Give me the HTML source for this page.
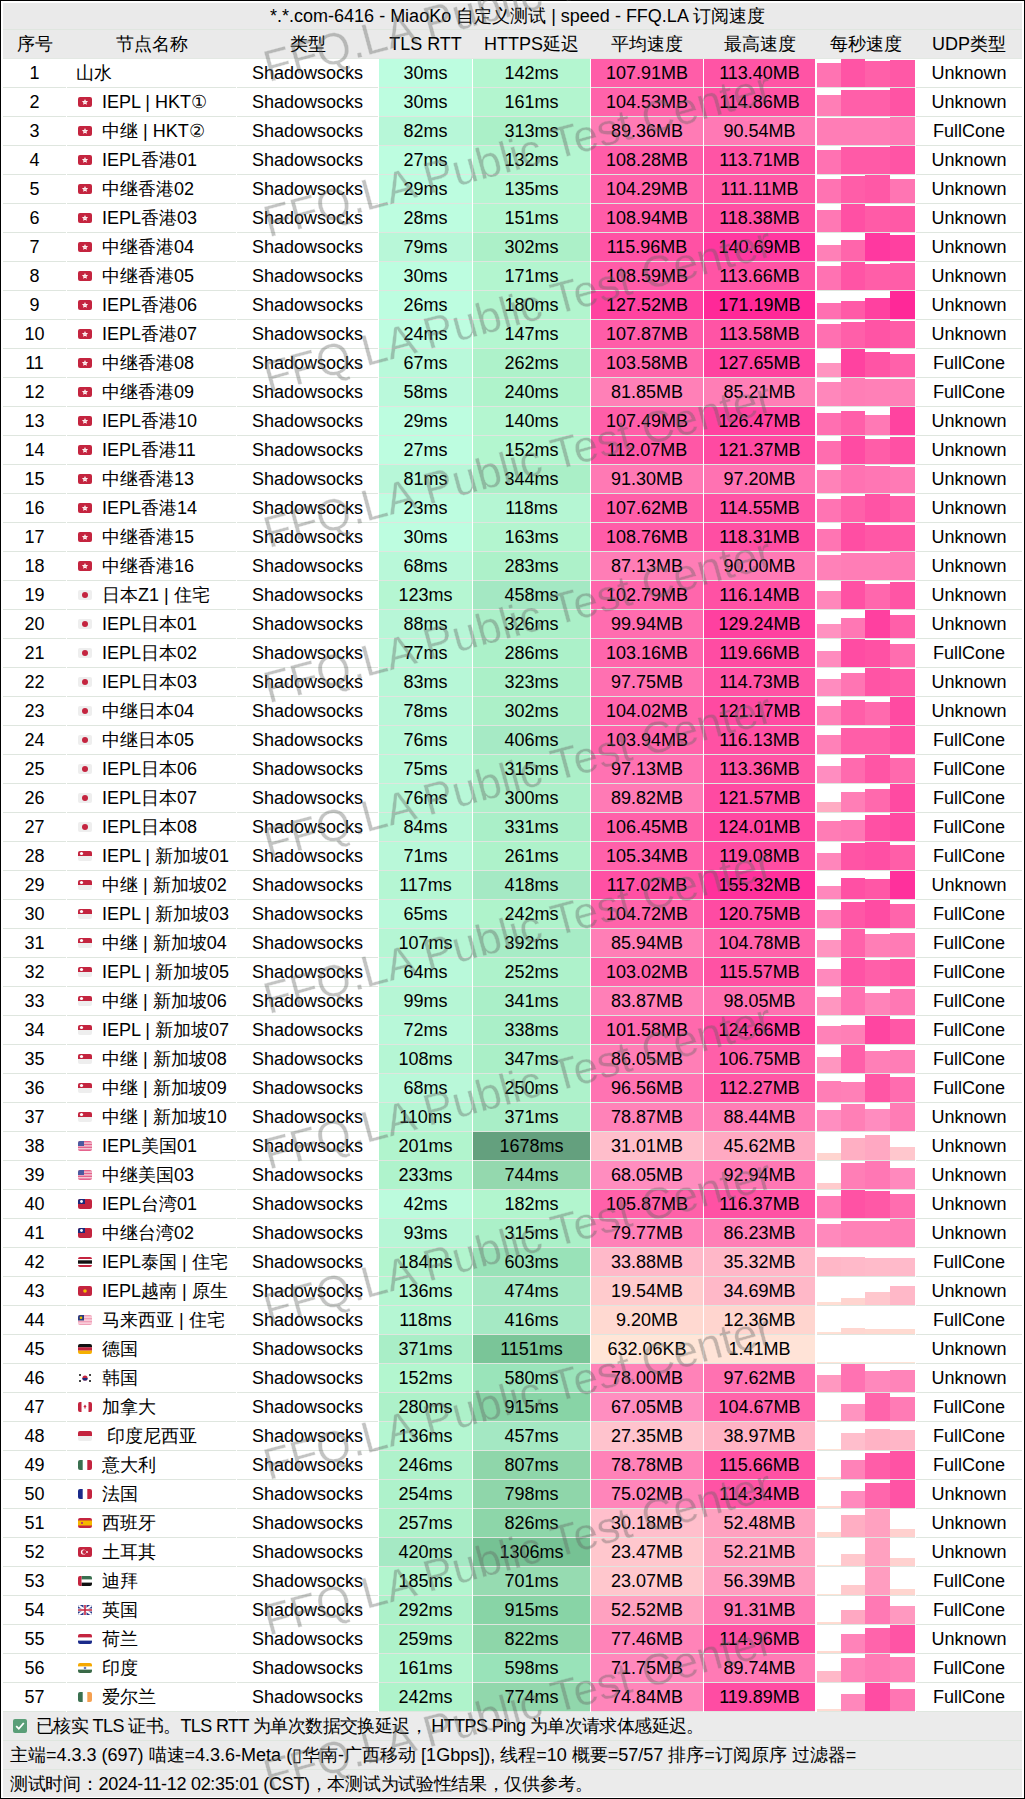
<!DOCTYPE html><html><head><meta charset="utf-8"><style>
html,body{margin:0;padding:0;background:#fff;}
body{width:1025px;height:1799px;position:relative;overflow:hidden;font-family:"Liberation Sans",sans-serif;color:#000;}
.c{position:absolute;height:28px;line-height:28px;font-size:18px;text-align:center;white-space:nowrap;border-bottom:1px solid #dfe6df;}
.t{position:absolute;white-space:nowrap;font-size:18px;line-height:28px;}
.b{position:absolute;}
.f{position:absolute;width:14px;height:10px;border-radius:2px;overflow:hidden;}
.f svg{display:block;}
.wm{position:absolute;font-size:44.4px;line-height:50px;height:50px;color:rgba(96,100,96,0.26);white-space:nowrap;transform-origin:0 40px;}
</style></head><body>
<div style="position:absolute;left:0;top:0;width:1023px;height:1797px;border:1px solid #000;"></div>

<div class="c" style="left:3px;top:3px;height:26px;line-height:26px;width:1019px;background:#eaeaea;text-indent:10px;">*.*.com-6416 - MiaoKo 自定义测试 | speed - FFQ.LA 订阅速度</div>
<div style="position:absolute;left:3px;top:30px;width:1019px;height:28px;background:#eaeaea;border-bottom:1px solid #e3e8e3;"></div>
<div class="c" style="left:3px;top:30px;width:63px;border-bottom:none;">序号</div>
<div class="c" style="left:67px;top:30px;width:169px;border-bottom:none;">节点名称</div>
<div class="c" style="left:237px;top:30px;width:141px;border-bottom:none;">类型</div>
<div class="c" style="left:379px;top:30px;width:93px;border-bottom:none;">TLS RTT</div>
<div class="c" style="left:473px;top:30px;width:117px;border-bottom:none;">HTTPS延迟</div>
<div class="c" style="left:591px;top:30px;width:112px;border-bottom:none;">平均速度</div>
<div class="c" style="left:704px;top:30px;width:111px;border-bottom:none;">最高速度</div>
<div class="c" style="left:817px;top:30px;width:98px;border-bottom:none;">每秒速度</div>
<div class="c" style="left:916px;top:30px;width:106px;border-bottom:none;">UDP类型</div>
<div class="c" style="left:3px;top:59px;width:63px;background:#fff;">1</div>
<div class="c" style="left:67px;top:59px;width:169px;background:#fff;"></div>
<div class="t" style="left:76px;top:59px;">山水</div>
<div class="c" style="left:237px;top:59px;width:141px;background:#fff;">Shadowsocks</div>
<div class="c" style="left:379px;top:59px;width:93px;background:#bdfde0;">30ms</div>
<div class="c" style="left:473px;top:59px;width:117px;background:#b4f6d0;">142ms</div>
<div class="c" style="left:591px;top:59px;width:112px;background:#ff5da8;">107.91MB</div>
<div class="c" style="left:704px;top:59px;width:111px;background:#ff54a5;">113.40MB</div>
<div class="c" style="left:817px;top:59px;width:98px;background:#fff;"></div>
<div class="b" style="left:817.0px;top:63.2px;width:24.0px;height:23.8px;background:#ff73b2;"></div>
<div class="b" style="left:841.0px;top:59.0px;width:24.3px;height:28.0px;background:#ff54a5;"></div>
<div class="b" style="left:865.3px;top:60.8px;width:24.5px;height:26.2px;background:#ff60a9;"></div>
<div class="b" style="left:889.8px;top:59.6px;width:25.2px;height:27.4px;background:#ff58a6;"></div>
<div class="c" style="left:916px;top:59px;width:106px;background:#fff;">Unknown</div>
<div class="c" style="left:3px;top:88px;width:63px;background:#fff;">2</div>
<div class="c" style="left:67px;top:88px;width:169px;background:#fff;"></div>
<div class="f" style="left:78px;top:97px;"><svg width="14" height="10"><rect width="14" height="10" fill="#c4243f"/><polygon points="7.00,1.90 7.88,3.99 10.14,4.18 8.43,5.66 8.94,7.87 7.00,6.70 5.06,7.87 5.57,5.66 3.86,4.18 6.12,3.99" fill="#fff"/><circle cx="7" cy="5.2" r=".6" fill="#e88"/></svg></div>
<div class="t" style="left:102px;top:88px;">IEPL | HKT①</div>
<div class="c" style="left:237px;top:88px;width:141px;background:#fff;">Shadowsocks</div>
<div class="c" style="left:379px;top:88px;width:93px;background:#bdfde0;">30ms</div>
<div class="c" style="left:473px;top:88px;width:117px;background:#b3f5cf;">161ms</div>
<div class="c" style="left:591px;top:88px;width:112px;background:#ff63aa;">104.53MB</div>
<div class="c" style="left:704px;top:88px;width:111px;background:#ff53a4;">114.86MB</div>
<div class="c" style="left:817px;top:88px;width:98px;background:#fff;"></div>
<div class="b" style="left:817.0px;top:95.0px;width:24.0px;height:21.0px;background:#ff7eb6;"></div>
<div class="b" style="left:841.0px;top:90.0px;width:24.3px;height:26.0px;background:#ff5fa9;"></div>
<div class="b" style="left:865.3px;top:90.0px;width:24.5px;height:26.0px;background:#ff5fa9;"></div>
<div class="b" style="left:889.8px;top:88.0px;width:25.2px;height:28.0px;background:#ff53a4;"></div>
<div class="c" style="left:916px;top:88px;width:106px;background:#fff;">Unknown</div>
<div class="c" style="left:3px;top:117px;width:63px;background:#fff;">3</div>
<div class="c" style="left:67px;top:117px;width:169px;background:#fff;"></div>
<div class="f" style="left:78px;top:126px;"><svg width="14" height="10"><rect width="14" height="10" fill="#c4243f"/><polygon points="7.00,1.90 7.88,3.99 10.14,4.18 8.43,5.66 8.94,7.87 7.00,6.70 5.06,7.87 5.57,5.66 3.86,4.18 6.12,3.99" fill="#fff"/><circle cx="7" cy="5.2" r=".6" fill="#e88"/></svg></div>
<div class="t" style="left:102px;top:117px;">中继 | HKT②</div>
<div class="c" style="left:237px;top:117px;width:141px;background:#fff;">Shadowsocks</div>
<div class="c" style="left:379px;top:117px;width:93px;background:#b7f7d8;">82ms</div>
<div class="c" style="left:473px;top:117px;width:117px;background:#abf0c8;">313ms</div>
<div class="c" style="left:591px;top:117px;width:112px;background:#ff7bb5;">89.36MB</div>
<div class="c" style="left:704px;top:117px;width:111px;background:#ff79b5;">90.54MB</div>
<div class="c" style="left:817px;top:117px;width:98px;background:#fff;"></div>
<div class="b" style="left:817.0px;top:118.0px;width:24.0px;height:27.0px;background:#ff7db6;"></div>
<div class="b" style="left:841.0px;top:118.0px;width:24.3px;height:27.0px;background:#ff7db6;"></div>
<div class="b" style="left:865.3px;top:118.0px;width:24.5px;height:27.0px;background:#ff7db6;"></div>
<div class="b" style="left:889.8px;top:117.0px;width:25.2px;height:28.0px;background:#ff79b5;"></div>
<div class="c" style="left:916px;top:117px;width:106px;background:#fff;">FullCone</div>
<div class="c" style="left:3px;top:146px;width:63px;background:#fff;">4</div>
<div class="c" style="left:67px;top:146px;width:169px;background:#fff;"></div>
<div class="f" style="left:78px;top:155px;"><svg width="14" height="10"><rect width="14" height="10" fill="#c4243f"/><polygon points="7.00,1.90 7.88,3.99 10.14,4.18 8.43,5.66 8.94,7.87 7.00,6.70 5.06,7.87 5.57,5.66 3.86,4.18 6.12,3.99" fill="#fff"/><circle cx="7" cy="5.2" r=".6" fill="#e88"/></svg></div>
<div class="t" style="left:102px;top:146px;">IEPL香港01</div>
<div class="c" style="left:237px;top:146px;width:141px;background:#fff;">Shadowsocks</div>
<div class="c" style="left:379px;top:146px;width:93px;background:#bdfde0;">27ms</div>
<div class="c" style="left:473px;top:146px;width:117px;background:#b4f6d1;">132ms</div>
<div class="c" style="left:591px;top:146px;width:112px;background:#ff5da8;">108.28MB</div>
<div class="c" style="left:704px;top:146px;width:111px;background:#ff54a5;">113.71MB</div>
<div class="c" style="left:817px;top:146px;width:98px;background:#fff;"></div>
<div class="b" style="left:817.0px;top:150.2px;width:24.0px;height:23.8px;background:#ff72b2;"></div>
<div class="b" style="left:841.0px;top:147.0px;width:24.3px;height:27.0px;background:#ff5aa7;"></div>
<div class="b" style="left:865.3px;top:147.0px;width:24.5px;height:27.0px;background:#ff5aa7;"></div>
<div class="b" style="left:889.8px;top:146.0px;width:25.2px;height:28.0px;background:#ff54a5;"></div>
<div class="c" style="left:916px;top:146px;width:106px;background:#fff;">Unknown</div>
<div class="c" style="left:3px;top:175px;width:63px;background:#fff;">5</div>
<div class="c" style="left:67px;top:175px;width:169px;background:#fff;"></div>
<div class="f" style="left:78px;top:184px;"><svg width="14" height="10"><rect width="14" height="10" fill="#c4243f"/><polygon points="7.00,1.90 7.88,3.99 10.14,4.18 8.43,5.66 8.94,7.87 7.00,6.70 5.06,7.87 5.57,5.66 3.86,4.18 6.12,3.99" fill="#fff"/><circle cx="7" cy="5.2" r=".6" fill="#e88"/></svg></div>
<div class="t" style="left:102px;top:175px;">中继香港02</div>
<div class="c" style="left:237px;top:175px;width:141px;background:#fff;">Shadowsocks</div>
<div class="c" style="left:379px;top:175px;width:93px;background:#bdfde0;">29ms</div>
<div class="c" style="left:473px;top:175px;width:117px;background:#b4f6d1;">135ms</div>
<div class="c" style="left:591px;top:175px;width:112px;background:#ff63ab;">104.29MB</div>
<div class="c" style="left:704px;top:175px;width:111px;background:#ff58a6;">111.11MB</div>
<div class="c" style="left:817px;top:175px;width:98px;background:#fff;"></div>
<div class="b" style="left:817.0px;top:178.7px;width:24.0px;height:24.3px;background:#ff73b2;"></div>
<div class="b" style="left:841.0px;top:175.7px;width:24.3px;height:27.3px;background:#ff5da8;"></div>
<div class="b" style="left:865.3px;top:175.0px;width:24.5px;height:28.0px;background:#ff58a6;"></div>
<div class="b" style="left:889.8px;top:179.3px;width:25.2px;height:23.7px;background:#ff75b3;"></div>
<div class="c" style="left:916px;top:175px;width:106px;background:#fff;">Unknown</div>
<div class="c" style="left:3px;top:204px;width:63px;background:#fff;">6</div>
<div class="c" style="left:67px;top:204px;width:169px;background:#fff;"></div>
<div class="f" style="left:78px;top:213px;"><svg width="14" height="10"><rect width="14" height="10" fill="#c4243f"/><polygon points="7.00,1.90 7.88,3.99 10.14,4.18 8.43,5.66 8.94,7.87 7.00,6.70 5.06,7.87 5.57,5.66 3.86,4.18 6.12,3.99" fill="#fff"/><circle cx="7" cy="5.2" r=".6" fill="#e88"/></svg></div>
<div class="t" style="left:102px;top:204px;">IEPL香港03</div>
<div class="c" style="left:237px;top:204px;width:141px;background:#fff;">Shadowsocks</div>
<div class="c" style="left:379px;top:204px;width:93px;background:#bdfde0;">28ms</div>
<div class="c" style="left:473px;top:204px;width:117px;background:#b4f6d0;">151ms</div>
<div class="c" style="left:591px;top:204px;width:112px;background:#ff5ca8;">108.94MB</div>
<div class="c" style="left:704px;top:204px;width:111px;background:#ff4ea3;">118.38MB</div>
<div class="c" style="left:817px;top:204px;width:98px;background:#fff;"></div>
<div class="b" style="left:817.0px;top:210.3px;width:24.0px;height:21.7px;background:#ff78b4;"></div>
<div class="b" style="left:841.0px;top:204.3px;width:24.3px;height:27.7px;background:#ff50a4;"></div>
<div class="b" style="left:865.3px;top:206.2px;width:24.5px;height:25.8px;background:#ff5ba7;"></div>
<div class="b" style="left:889.8px;top:205.8px;width:25.2px;height:26.2px;background:#ff59a6;"></div>
<div class="c" style="left:916px;top:204px;width:106px;background:#fff;">Unknown</div>
<div class="c" style="left:3px;top:233px;width:63px;background:#fff;">7</div>
<div class="c" style="left:67px;top:233px;width:169px;background:#fff;"></div>
<div class="f" style="left:78px;top:242px;"><svg width="14" height="10"><rect width="14" height="10" fill="#c4243f"/><polygon points="7.00,1.90 7.88,3.99 10.14,4.18 8.43,5.66 8.94,7.87 7.00,6.70 5.06,7.87 5.57,5.66 3.86,4.18 6.12,3.99" fill="#fff"/><circle cx="7" cy="5.2" r=".6" fill="#e88"/></svg></div>
<div class="t" style="left:102px;top:233px;">中继香港04</div>
<div class="c" style="left:237px;top:233px;width:141px;background:#fff;">Shadowsocks</div>
<div class="c" style="left:379px;top:233px;width:93px;background:#b8f7d8;">79ms</div>
<div class="c" style="left:473px;top:233px;width:117px;background:#acf0c8;">302ms</div>
<div class="c" style="left:591px;top:233px;width:112px;background:#ff51a4;">115.96MB</div>
<div class="c" style="left:704px;top:233px;width:111px;background:#ff38a0;">140.69MB</div>
<div class="c" style="left:817px;top:233px;width:98px;background:#fff;"></div>
<div class="b" style="left:817.0px;top:244.7px;width:24.0px;height:16.3px;background:#ff80b7;"></div>
<div class="b" style="left:841.0px;top:240.4px;width:24.3px;height:20.6px;background:#ff65ab;"></div>
<div class="b" style="left:865.3px;top:233.0px;width:24.5px;height:28.0px;background:#ff38a0;"></div>
<div class="b" style="left:889.8px;top:235.2px;width:25.2px;height:25.8px;background:#ff40a0;"></div>
<div class="c" style="left:916px;top:233px;width:106px;background:#fff;">Unknown</div>
<div class="c" style="left:3px;top:262px;width:63px;background:#fff;">8</div>
<div class="c" style="left:67px;top:262px;width:169px;background:#fff;"></div>
<div class="f" style="left:78px;top:271px;"><svg width="14" height="10"><rect width="14" height="10" fill="#c4243f"/><polygon points="7.00,1.90 7.88,3.99 10.14,4.18 8.43,5.66 8.94,7.87 7.00,6.70 5.06,7.87 5.57,5.66 3.86,4.18 6.12,3.99" fill="#fff"/><circle cx="7" cy="5.2" r=".6" fill="#e88"/></svg></div>
<div class="t" style="left:102px;top:262px;">中继香港05</div>
<div class="c" style="left:237px;top:262px;width:141px;background:#fff;">Shadowsocks</div>
<div class="c" style="left:379px;top:262px;width:93px;background:#bdfde0;">30ms</div>
<div class="c" style="left:473px;top:262px;width:117px;background:#b3f5cf;">171ms</div>
<div class="c" style="left:591px;top:262px;width:112px;background:#ff5ca8;">108.59MB</div>
<div class="c" style="left:704px;top:262px;width:111px;background:#ff54a5;">113.66MB</div>
<div class="c" style="left:817px;top:262px;width:98px;background:#fff;"></div>
<div class="b" style="left:817.0px;top:266.1px;width:24.0px;height:23.9px;background:#ff72b2;"></div>
<div class="b" style="left:841.0px;top:262.0px;width:24.3px;height:28.0px;background:#ff54a5;"></div>
<div class="b" style="left:865.3px;top:263.5px;width:24.5px;height:26.5px;background:#ff5ea8;"></div>
<div class="b" style="left:889.8px;top:263.3px;width:25.2px;height:26.7px;background:#ff5da8;"></div>
<div class="c" style="left:916px;top:262px;width:106px;background:#fff;">Unknown</div>
<div class="c" style="left:3px;top:291px;width:63px;background:#fff;">9</div>
<div class="c" style="left:67px;top:291px;width:169px;background:#fff;"></div>
<div class="f" style="left:78px;top:300px;"><svg width="14" height="10"><rect width="14" height="10" fill="#c4243f"/><polygon points="7.00,1.90 7.88,3.99 10.14,4.18 8.43,5.66 8.94,7.87 7.00,6.70 5.06,7.87 5.57,5.66 3.86,4.18 6.12,3.99" fill="#fff"/><circle cx="7" cy="5.2" r=".6" fill="#e88"/></svg></div>
<div class="t" style="left:102px;top:291px;">IEPL香港06</div>
<div class="c" style="left:237px;top:291px;width:141px;background:#fff;">Shadowsocks</div>
<div class="c" style="left:379px;top:291px;width:93px;background:#bdfde0;">26ms</div>
<div class="c" style="left:473px;top:291px;width:117px;background:#b2f5ce;">180ms</div>
<div class="c" style="left:591px;top:291px;width:112px;background:#ff42a0;">127.52MB</div>
<div class="c" style="left:704px;top:291px;width:111px;background:#ff2898;">171.19MB</div>
<div class="c" style="left:817px;top:291px;width:98px;background:#fff;"></div>
<div class="b" style="left:817.0px;top:302.9px;width:24.0px;height:16.1px;background:#ff6fb1;"></div>
<div class="b" style="left:841.0px;top:301.0px;width:24.3px;height:18.0px;background:#ff5aa7;"></div>
<div class="b" style="left:865.3px;top:298.0px;width:24.5px;height:21.0px;background:#ff41a0;"></div>
<div class="b" style="left:889.8px;top:291.0px;width:25.2px;height:28.0px;background:#ff2898;"></div>
<div class="c" style="left:916px;top:291px;width:106px;background:#fff;">Unknown</div>
<div class="c" style="left:3px;top:320px;width:63px;background:#fff;">10</div>
<div class="c" style="left:67px;top:320px;width:169px;background:#fff;"></div>
<div class="f" style="left:78px;top:329px;"><svg width="14" height="10"><rect width="14" height="10" fill="#c4243f"/><polygon points="7.00,1.90 7.88,3.99 10.14,4.18 8.43,5.66 8.94,7.87 7.00,6.70 5.06,7.87 5.57,5.66 3.86,4.18 6.12,3.99" fill="#fff"/><circle cx="7" cy="5.2" r=".6" fill="#e88"/></svg></div>
<div class="t" style="left:102px;top:320px;">IEPL香港07</div>
<div class="c" style="left:237px;top:320px;width:141px;background:#fff;">Shadowsocks</div>
<div class="c" style="left:379px;top:320px;width:93px;background:#bdfde0;">24ms</div>
<div class="c" style="left:473px;top:320px;width:117px;background:#b4f6d0;">147ms</div>
<div class="c" style="left:591px;top:320px;width:112px;background:#ff5da8;">107.87MB</div>
<div class="c" style="left:704px;top:320px;width:111px;background:#ff54a5;">113.58MB</div>
<div class="c" style="left:817px;top:320px;width:98px;background:#fff;"></div>
<div class="b" style="left:817.0px;top:323.8px;width:24.0px;height:24.2px;background:#ff70b1;"></div>
<div class="b" style="left:841.0px;top:321.6px;width:24.3px;height:26.4px;background:#ff5fa9;"></div>
<div class="b" style="left:865.3px;top:320.0px;width:24.5px;height:28.0px;background:#ff54a5;"></div>
<div class="b" style="left:889.8px;top:321.0px;width:25.2px;height:27.0px;background:#ff5ba7;"></div>
<div class="c" style="left:916px;top:320px;width:106px;background:#fff;">Unknown</div>
<div class="c" style="left:3px;top:349px;width:63px;background:#fff;">11</div>
<div class="c" style="left:67px;top:349px;width:169px;background:#fff;"></div>
<div class="f" style="left:78px;top:358px;"><svg width="14" height="10"><rect width="14" height="10" fill="#c4243f"/><polygon points="7.00,1.90 7.88,3.99 10.14,4.18 8.43,5.66 8.94,7.87 7.00,6.70 5.06,7.87 5.57,5.66 3.86,4.18 6.12,3.99" fill="#fff"/><circle cx="7" cy="5.2" r=".6" fill="#e88"/></svg></div>
<div class="t" style="left:102px;top:349px;">中继香港08</div>
<div class="c" style="left:237px;top:349px;width:141px;background:#fff;">Shadowsocks</div>
<div class="c" style="left:379px;top:349px;width:93px;background:#b9f9da;">67ms</div>
<div class="c" style="left:473px;top:349px;width:117px;background:#aef2ca;">262ms</div>
<div class="c" style="left:591px;top:349px;width:112px;background:#ff65ab;">103.58MB</div>
<div class="c" style="left:704px;top:349px;width:111px;background:#ff42a0;">127.65MB</div>
<div class="c" style="left:817px;top:349px;width:98px;background:#fff;"></div>
<div class="b" style="left:817.0px;top:363.2px;width:24.0px;height:13.8px;background:#ff94c0;"></div>
<div class="b" style="left:841.0px;top:349.0px;width:24.3px;height:28.0px;background:#ff42a0;"></div>
<div class="b" style="left:865.3px;top:352.0px;width:24.5px;height:25.0px;background:#ff54a5;"></div>
<div class="b" style="left:889.8px;top:353.9px;width:25.2px;height:23.1px;background:#ff61aa;"></div>
<div class="c" style="left:916px;top:349px;width:106px;background:#fff;">FullCone</div>
<div class="c" style="left:3px;top:378px;width:63px;background:#fff;">12</div>
<div class="c" style="left:67px;top:378px;width:169px;background:#fff;"></div>
<div class="f" style="left:78px;top:387px;"><svg width="14" height="10"><rect width="14" height="10" fill="#c4243f"/><polygon points="7.00,1.90 7.88,3.99 10.14,4.18 8.43,5.66 8.94,7.87 7.00,6.70 5.06,7.87 5.57,5.66 3.86,4.18 6.12,3.99" fill="#fff"/><circle cx="7" cy="5.2" r=".6" fill="#e88"/></svg></div>
<div class="t" style="left:102px;top:378px;">中继香港09</div>
<div class="c" style="left:237px;top:378px;width:141px;background:#fff;">Shadowsocks</div>
<div class="c" style="left:379px;top:378px;width:93px;background:#baf9db;">58ms</div>
<div class="c" style="left:473px;top:378px;width:117px;background:#aff3cb;">240ms</div>
<div class="c" style="left:591px;top:378px;width:112px;background:#ff80b7;">81.85MB</div>
<div class="c" style="left:704px;top:378px;width:111px;background:#ff7eb6;">85.21MB</div>
<div class="c" style="left:817px;top:378px;width:98px;background:#fff;"></div>
<div class="b" style="left:817.0px;top:381.9px;width:24.0px;height:24.1px;background:#ff87bb;"></div>
<div class="b" style="left:841.0px;top:378.0px;width:24.3px;height:28.0px;background:#ff7eb6;"></div>
<div class="b" style="left:865.3px;top:378.8px;width:24.5px;height:27.2px;background:#ff80b7;"></div>
<div class="b" style="left:889.8px;top:378.8px;width:25.2px;height:27.2px;background:#ff80b7;"></div>
<div class="c" style="left:916px;top:378px;width:106px;background:#fff;">FullCone</div>
<div class="c" style="left:3px;top:407px;width:63px;background:#fff;">13</div>
<div class="c" style="left:67px;top:407px;width:169px;background:#fff;"></div>
<div class="f" style="left:78px;top:416px;"><svg width="14" height="10"><rect width="14" height="10" fill="#c4243f"/><polygon points="7.00,1.90 7.88,3.99 10.14,4.18 8.43,5.66 8.94,7.87 7.00,6.70 5.06,7.87 5.57,5.66 3.86,4.18 6.12,3.99" fill="#fff"/><circle cx="7" cy="5.2" r=".6" fill="#e88"/></svg></div>
<div class="t" style="left:102px;top:407px;">IEPL香港10</div>
<div class="c" style="left:237px;top:407px;width:141px;background:#fff;">Shadowsocks</div>
<div class="c" style="left:379px;top:407px;width:93px;background:#bdfde0;">29ms</div>
<div class="c" style="left:473px;top:407px;width:117px;background:#b4f6d0;">140ms</div>
<div class="c" style="left:591px;top:407px;width:112px;background:#ff5ea8;">107.49MB</div>
<div class="c" style="left:704px;top:407px;width:111px;background:#ff43a0;">126.47MB</div>
<div class="c" style="left:817px;top:407px;width:98px;background:#fff;"></div>
<div class="b" style="left:817.0px;top:413.2px;width:24.0px;height:21.8px;background:#ff6fb1;"></div>
<div class="b" style="left:841.0px;top:411.3px;width:24.3px;height:23.7px;background:#ff5fa9;"></div>
<div class="b" style="left:865.3px;top:414.9px;width:24.5px;height:20.1px;background:#ff79b5;"></div>
<div class="b" style="left:889.8px;top:407.0px;width:25.2px;height:28.0px;background:#ff43a0;"></div>
<div class="c" style="left:916px;top:407px;width:106px;background:#fff;">Unknown</div>
<div class="c" style="left:3px;top:436px;width:63px;background:#fff;">14</div>
<div class="c" style="left:67px;top:436px;width:169px;background:#fff;"></div>
<div class="f" style="left:78px;top:445px;"><svg width="14" height="10"><rect width="14" height="10" fill="#c4243f"/><polygon points="7.00,1.90 7.88,3.99 10.14,4.18 8.43,5.66 8.94,7.87 7.00,6.70 5.06,7.87 5.57,5.66 3.86,4.18 6.12,3.99" fill="#fff"/><circle cx="7" cy="5.2" r=".6" fill="#e88"/></svg></div>
<div class="t" style="left:102px;top:436px;">IEPL香港11</div>
<div class="c" style="left:237px;top:436px;width:141px;background:#fff;">Shadowsocks</div>
<div class="c" style="left:379px;top:436px;width:93px;background:#bdfde0;">27ms</div>
<div class="c" style="left:473px;top:436px;width:117px;background:#b3f6cf;">152ms</div>
<div class="c" style="left:591px;top:436px;width:112px;background:#ff57a6;">112.07MB</div>
<div class="c" style="left:704px;top:436px;width:111px;background:#ff4aa2;">121.37MB</div>
<div class="c" style="left:817px;top:436px;width:98px;background:#fff;"></div>
<div class="b" style="left:817.0px;top:441.0px;width:24.0px;height:23.0px;background:#ff6daf;"></div>
<div class="b" style="left:841.0px;top:436.2px;width:24.3px;height:27.8px;background:#ff4ba3;"></div>
<div class="b" style="left:865.3px;top:439.0px;width:24.5px;height:25.0px;background:#ff5da8;"></div>
<div class="b" style="left:889.8px;top:437.1px;width:25.2px;height:26.9px;background:#ff50a4;"></div>
<div class="c" style="left:916px;top:436px;width:106px;background:#fff;">Unknown</div>
<div class="c" style="left:3px;top:465px;width:63px;background:#fff;">15</div>
<div class="c" style="left:67px;top:465px;width:169px;background:#fff;"></div>
<div class="f" style="left:78px;top:474px;"><svg width="14" height="10"><rect width="14" height="10" fill="#c4243f"/><polygon points="7.00,1.90 7.88,3.99 10.14,4.18 8.43,5.66 8.94,7.87 7.00,6.70 5.06,7.87 5.57,5.66 3.86,4.18 6.12,3.99" fill="#fff"/><circle cx="7" cy="5.2" r=".6" fill="#e88"/></svg></div>
<div class="t" style="left:102px;top:465px;">中继香港13</div>
<div class="c" style="left:237px;top:465px;width:141px;background:#fff;">Shadowsocks</div>
<div class="c" style="left:379px;top:465px;width:93px;background:#b7f7d8;">81ms</div>
<div class="c" style="left:473px;top:465px;width:117px;background:#aaefc7;">344ms</div>
<div class="c" style="left:591px;top:465px;width:112px;background:#ff79b4;">91.30MB</div>
<div class="c" style="left:704px;top:465px;width:111px;background:#ff72b2;">97.20MB</div>
<div class="c" style="left:817px;top:465px;width:98px;background:#fff;"></div>
<div class="b" style="left:817.0px;top:470.3px;width:24.0px;height:22.7px;background:#ff82b8;"></div>
<div class="b" style="left:841.0px;top:465.0px;width:24.3px;height:28.0px;background:#ff72b2;"></div>
<div class="b" style="left:865.3px;top:466.1px;width:24.5px;height:26.9px;background:#ff76b4;"></div>
<div class="b" style="left:889.8px;top:467.2px;width:25.2px;height:25.8px;background:#ff7ab5;"></div>
<div class="c" style="left:916px;top:465px;width:106px;background:#fff;">Unknown</div>
<div class="c" style="left:3px;top:494px;width:63px;background:#fff;">16</div>
<div class="c" style="left:67px;top:494px;width:169px;background:#fff;"></div>
<div class="f" style="left:78px;top:503px;"><svg width="14" height="10"><rect width="14" height="10" fill="#c4243f"/><polygon points="7.00,1.90 7.88,3.99 10.14,4.18 8.43,5.66 8.94,7.87 7.00,6.70 5.06,7.87 5.57,5.66 3.86,4.18 6.12,3.99" fill="#fff"/><circle cx="7" cy="5.2" r=".6" fill="#e88"/></svg></div>
<div class="t" style="left:102px;top:494px;">IEPL香港14</div>
<div class="c" style="left:237px;top:494px;width:141px;background:#fff;">Shadowsocks</div>
<div class="c" style="left:379px;top:494px;width:93px;background:#bdfde0;">23ms</div>
<div class="c" style="left:473px;top:494px;width:117px;background:#b5f6d3;">118ms</div>
<div class="c" style="left:591px;top:494px;width:112px;background:#ff5ea8;">107.62MB</div>
<div class="c" style="left:704px;top:494px;width:111px;background:#ff53a5;">114.55MB</div>
<div class="c" style="left:817px;top:494px;width:98px;background:#fff;"></div>
<div class="b" style="left:817.0px;top:498.8px;width:24.0px;height:23.2px;background:#ff74b3;"></div>
<div class="b" style="left:841.0px;top:496.1px;width:24.3px;height:25.9px;background:#ff60a9;"></div>
<div class="b" style="left:865.3px;top:494.0px;width:24.5px;height:28.0px;background:#ff53a5;"></div>
<div class="b" style="left:889.8px;top:496.1px;width:25.2px;height:25.9px;background:#ff60a9;"></div>
<div class="c" style="left:916px;top:494px;width:106px;background:#fff;">Unknown</div>
<div class="c" style="left:3px;top:523px;width:63px;background:#fff;">17</div>
<div class="c" style="left:67px;top:523px;width:169px;background:#fff;"></div>
<div class="f" style="left:78px;top:532px;"><svg width="14" height="10"><rect width="14" height="10" fill="#c4243f"/><polygon points="7.00,1.90 7.88,3.99 10.14,4.18 8.43,5.66 8.94,7.87 7.00,6.70 5.06,7.87 5.57,5.66 3.86,4.18 6.12,3.99" fill="#fff"/><circle cx="7" cy="5.2" r=".6" fill="#e88"/></svg></div>
<div class="t" style="left:102px;top:523px;">中继香港15</div>
<div class="c" style="left:237px;top:523px;width:141px;background:#fff;">Shadowsocks</div>
<div class="c" style="left:379px;top:523px;width:93px;background:#bdfde0;">30ms</div>
<div class="c" style="left:473px;top:523px;width:117px;background:#b3f5cf;">163ms</div>
<div class="c" style="left:591px;top:523px;width:112px;background:#ff5ca8;">108.76MB</div>
<div class="c" style="left:704px;top:523px;width:111px;background:#ff4ea3;">118.31MB</div>
<div class="c" style="left:817px;top:523px;width:98px;background:#fff;"></div>
<div class="b" style="left:817.0px;top:528.7px;width:24.0px;height:22.3px;background:#ff75b3;"></div>
<div class="b" style="left:841.0px;top:523.0px;width:24.3px;height:28.0px;background:#ff4ea3;"></div>
<div class="b" style="left:865.3px;top:524.6px;width:24.5px;height:26.4px;background:#ff57a6;"></div>
<div class="b" style="left:889.8px;top:524.8px;width:25.2px;height:26.2px;background:#ff59a6;"></div>
<div class="c" style="left:916px;top:523px;width:106px;background:#fff;">Unknown</div>
<div class="c" style="left:3px;top:552px;width:63px;background:#fff;">18</div>
<div class="c" style="left:67px;top:552px;width:169px;background:#fff;"></div>
<div class="f" style="left:78px;top:561px;"><svg width="14" height="10"><rect width="14" height="10" fill="#c4243f"/><polygon points="7.00,1.90 7.88,3.99 10.14,4.18 8.43,5.66 8.94,7.87 7.00,6.70 5.06,7.87 5.57,5.66 3.86,4.18 6.12,3.99" fill="#fff"/><circle cx="7" cy="5.2" r=".6" fill="#e88"/></svg></div>
<div class="t" style="left:102px;top:552px;">中继香港16</div>
<div class="c" style="left:237px;top:552px;width:141px;background:#fff;">Shadowsocks</div>
<div class="c" style="left:379px;top:552px;width:93px;background:#b9f8d9;">68ms</div>
<div class="c" style="left:473px;top:552px;width:117px;background:#adf1c9;">283ms</div>
<div class="c" style="left:591px;top:552px;width:112px;background:#ff7db6;">87.13MB</div>
<div class="c" style="left:704px;top:552px;width:111px;background:#ff7ab5;">90.00MB</div>
<div class="c" style="left:817px;top:552px;width:98px;background:#fff;"></div>
<div class="b" style="left:817.0px;top:555.3px;width:24.0px;height:24.7px;background:#ff81b8;"></div>
<div class="b" style="left:841.0px;top:553.0px;width:24.3px;height:27.0px;background:#ff7db6;"></div>
<div class="b" style="left:865.3px;top:553.0px;width:24.5px;height:27.0px;background:#ff7db6;"></div>
<div class="b" style="left:889.8px;top:552.3px;width:25.2px;height:27.7px;background:#ff7bb5;"></div>
<div class="c" style="left:916px;top:552px;width:106px;background:#fff;">Unknown</div>
<div class="c" style="left:3px;top:581px;width:63px;background:#fff;">19</div>
<div class="c" style="left:67px;top:581px;width:169px;background:#fff;"></div>
<div class="f" style="left:78px;top:590px;"><svg width="14" height="10"><rect width="14" height="10" fill="#eeeeee"/><circle cx="7" cy="5" r="3" fill="#c4243f"/></svg></div>
<div class="t" style="left:102px;top:581px;">日本Z1 | 住宅</div>
<div class="c" style="left:237px;top:581px;width:141px;background:#fff;">Shadowsocks</div>
<div class="c" style="left:379px;top:581px;width:93px;background:#b5f6d2;">123ms</div>
<div class="c" style="left:473px;top:581px;width:117px;background:#a4e8c3;">458ms</div>
<div class="c" style="left:591px;top:581px;width:112px;background:#ff66ac;">102.79MB</div>
<div class="c" style="left:704px;top:581px;width:111px;background:#ff51a4;">116.14MB</div>
<div class="c" style="left:817px;top:581px;width:98px;background:#fff;"></div>
<div class="b" style="left:817.0px;top:591.3px;width:24.0px;height:17.7px;background:#ff87bb;"></div>
<div class="b" style="left:841.0px;top:581.0px;width:24.3px;height:28.0px;background:#ff51a4;"></div>
<div class="b" style="left:865.3px;top:584.3px;width:24.5px;height:24.7px;background:#ff67ad;"></div>
<div class="b" style="left:889.8px;top:581.7px;width:25.2px;height:27.3px;background:#ff55a5;"></div>
<div class="c" style="left:916px;top:581px;width:106px;background:#fff;">Unknown</div>
<div class="c" style="left:3px;top:610px;width:63px;background:#fff;">20</div>
<div class="c" style="left:67px;top:610px;width:169px;background:#fff;"></div>
<div class="f" style="left:78px;top:619px;"><svg width="14" height="10"><rect width="14" height="10" fill="#eeeeee"/><circle cx="7" cy="5" r="3" fill="#c4243f"/></svg></div>
<div class="t" style="left:102px;top:610px;">IEPL日本01</div>
<div class="c" style="left:237px;top:610px;width:141px;background:#fff;">Shadowsocks</div>
<div class="c" style="left:379px;top:610px;width:93px;background:#b7f6d7;">88ms</div>
<div class="c" style="left:473px;top:610px;width:117px;background:#abf0c8;">326ms</div>
<div class="c" style="left:591px;top:610px;width:112px;background:#ff6caf;">99.94MB</div>
<div class="c" style="left:704px;top:610px;width:111px;background:#ff40a0;">129.24MB</div>
<div class="c" style="left:817px;top:610px;width:98px;background:#fff;"></div>
<div class="b" style="left:817.0px;top:623.9px;width:24.0px;height:14.1px;background:#ff91c0;"></div>
<div class="b" style="left:841.0px;top:617.9px;width:24.3px;height:20.1px;background:#ff77b4;"></div>
<div class="b" style="left:865.3px;top:610.0px;width:24.5px;height:28.0px;background:#ff40a0;"></div>
<div class="b" style="left:889.8px;top:614.9px;width:25.2px;height:23.1px;background:#ff5fa9;"></div>
<div class="c" style="left:916px;top:610px;width:106px;background:#fff;">Unknown</div>
<div class="c" style="left:3px;top:639px;width:63px;background:#fff;">21</div>
<div class="c" style="left:67px;top:639px;width:169px;background:#fff;"></div>
<div class="f" style="left:78px;top:648px;"><svg width="14" height="10"><rect width="14" height="10" fill="#eeeeee"/><circle cx="7" cy="5" r="3" fill="#c4243f"/></svg></div>
<div class="t" style="left:102px;top:639px;">IEPL日本02</div>
<div class="c" style="left:237px;top:639px;width:141px;background:#fff;">Shadowsocks</div>
<div class="c" style="left:379px;top:639px;width:93px;background:#b8f8d8;">77ms</div>
<div class="c" style="left:473px;top:639px;width:117px;background:#acf1c9;">286ms</div>
<div class="c" style="left:591px;top:639px;width:112px;background:#ff66ac;">103.16MB</div>
<div class="c" style="left:704px;top:639px;width:111px;background:#ff4ca3;">119.66MB</div>
<div class="c" style="left:817px;top:639px;width:98px;background:#fff;"></div>
<div class="b" style="left:817.0px;top:650.8px;width:24.0px;height:16.2px;background:#ff8bbe;"></div>
<div class="b" style="left:841.0px;top:639.0px;width:24.3px;height:28.0px;background:#ff4ca3;"></div>
<div class="b" style="left:865.3px;top:639.8px;width:24.5px;height:27.2px;background:#ff51a4;"></div>
<div class="b" style="left:889.8px;top:643.7px;width:25.2px;height:23.3px;background:#ff6daf;"></div>
<div class="c" style="left:916px;top:639px;width:106px;background:#fff;">FullCone</div>
<div class="c" style="left:3px;top:668px;width:63px;background:#fff;">22</div>
<div class="c" style="left:67px;top:668px;width:169px;background:#fff;"></div>
<div class="f" style="left:78px;top:677px;"><svg width="14" height="10"><rect width="14" height="10" fill="#eeeeee"/><circle cx="7" cy="5" r="3" fill="#c4243f"/></svg></div>
<div class="t" style="left:102px;top:668px;">IEPL日本03</div>
<div class="c" style="left:237px;top:668px;width:141px;background:#fff;">Shadowsocks</div>
<div class="c" style="left:379px;top:668px;width:93px;background:#b7f7d7;">83ms</div>
<div class="c" style="left:473px;top:668px;width:117px;background:#abf0c8;">323ms</div>
<div class="c" style="left:591px;top:668px;width:112px;background:#ff70b1;">97.75MB</div>
<div class="c" style="left:704px;top:668px;width:111px;background:#ff53a5;">114.73MB</div>
<div class="c" style="left:817px;top:668px;width:98px;background:#fff;"></div>
<div class="b" style="left:817.0px;top:679.2px;width:24.0px;height:16.8px;background:#ff8cbf;"></div>
<div class="b" style="left:841.0px;top:673.0px;width:24.3px;height:23.0px;background:#ff75b3;"></div>
<div class="b" style="left:865.3px;top:668.2px;width:24.5px;height:27.8px;background:#ff54a5;"></div>
<div class="b" style="left:889.8px;top:669.1px;width:25.2px;height:26.9px;background:#ff5aa7;"></div>
<div class="c" style="left:916px;top:668px;width:106px;background:#fff;">Unknown</div>
<div class="c" style="left:3px;top:697px;width:63px;background:#fff;">23</div>
<div class="c" style="left:67px;top:697px;width:169px;background:#fff;"></div>
<div class="f" style="left:78px;top:706px;"><svg width="14" height="10"><rect width="14" height="10" fill="#eeeeee"/><circle cx="7" cy="5" r="3" fill="#c4243f"/></svg></div>
<div class="t" style="left:102px;top:697px;">中继日本04</div>
<div class="c" style="left:237px;top:697px;width:141px;background:#fff;">Shadowsocks</div>
<div class="c" style="left:379px;top:697px;width:93px;background:#b8f7d8;">78ms</div>
<div class="c" style="left:473px;top:697px;width:117px;background:#acf0c8;">302ms</div>
<div class="c" style="left:591px;top:697px;width:112px;background:#ff64ab;">104.02MB</div>
<div class="c" style="left:704px;top:697px;width:111px;background:#ff4aa2;">121.17MB</div>
<div class="c" style="left:817px;top:697px;width:98px;background:#fff;"></div>
<div class="b" style="left:817.0px;top:705.9px;width:24.0px;height:19.1px;background:#ff80b7;"></div>
<div class="b" style="left:841.0px;top:700.1px;width:24.3px;height:24.9px;background:#ff5ea8;"></div>
<div class="b" style="left:865.3px;top:701.7px;width:24.5px;height:23.3px;background:#ff6aae;"></div>
<div class="b" style="left:889.8px;top:697.0px;width:25.2px;height:28.0px;background:#ff4aa2;"></div>
<div class="c" style="left:916px;top:697px;width:106px;background:#fff;">Unknown</div>
<div class="c" style="left:3px;top:726px;width:63px;background:#fff;">24</div>
<div class="c" style="left:67px;top:726px;width:169px;background:#fff;"></div>
<div class="f" style="left:78px;top:735px;"><svg width="14" height="10"><rect width="14" height="10" fill="#eeeeee"/><circle cx="7" cy="5" r="3" fill="#c4243f"/></svg></div>
<div class="t" style="left:102px;top:726px;">中继日本05</div>
<div class="c" style="left:237px;top:726px;width:141px;background:#fff;">Shadowsocks</div>
<div class="c" style="left:379px;top:726px;width:93px;background:#b8f8d8;">76ms</div>
<div class="c" style="left:473px;top:726px;width:117px;background:#a6eac5;">406ms</div>
<div class="c" style="left:591px;top:726px;width:112px;background:#ff64ab;">103.94MB</div>
<div class="c" style="left:704px;top:726px;width:111px;background:#ff51a4;">116.13MB</div>
<div class="c" style="left:817px;top:726px;width:98px;background:#fff;"></div>
<div class="b" style="left:817.0px;top:734.9px;width:24.0px;height:19.1px;background:#ff81b8;"></div>
<div class="b" style="left:841.0px;top:728.1px;width:24.3px;height:25.9px;background:#ff5ea8;"></div>
<div class="b" style="left:865.3px;top:728.1px;width:24.5px;height:25.9px;background:#ff5ea8;"></div>
<div class="b" style="left:889.8px;top:726.0px;width:25.2px;height:28.0px;background:#ff51a4;"></div>
<div class="c" style="left:916px;top:726px;width:106px;background:#fff;">FullCone</div>
<div class="c" style="left:3px;top:755px;width:63px;background:#fff;">25</div>
<div class="c" style="left:67px;top:755px;width:169px;background:#fff;"></div>
<div class="f" style="left:78px;top:764px;"><svg width="14" height="10"><rect width="14" height="10" fill="#eeeeee"/><circle cx="7" cy="5" r="3" fill="#c4243f"/></svg></div>
<div class="t" style="left:102px;top:755px;">IEPL日本06</div>
<div class="c" style="left:237px;top:755px;width:141px;background:#fff;">Shadowsocks</div>
<div class="c" style="left:379px;top:755px;width:93px;background:#b8f8d8;">75ms</div>
<div class="c" style="left:473px;top:755px;width:117px;background:#abf0c8;">315ms</div>
<div class="c" style="left:591px;top:755px;width:112px;background:#ff72b2;">97.13MB</div>
<div class="c" style="left:704px;top:755px;width:111px;background:#ff55a5;">113.36MB</div>
<div class="c" style="left:817px;top:755px;width:98px;background:#fff;"></div>
<div class="b" style="left:817.0px;top:766.3px;width:24.0px;height:16.7px;background:#ff8dc0;"></div>
<div class="b" style="left:841.0px;top:758.1px;width:24.3px;height:24.9px;background:#ff6aae;"></div>
<div class="b" style="left:865.3px;top:755.0px;width:24.5px;height:28.0px;background:#ff55a5;"></div>
<div class="b" style="left:889.8px;top:757.9px;width:25.2px;height:25.1px;background:#ff69ad;"></div>
<div class="c" style="left:916px;top:755px;width:106px;background:#fff;">FullCone</div>
<div class="c" style="left:3px;top:784px;width:63px;background:#fff;">26</div>
<div class="c" style="left:67px;top:784px;width:169px;background:#fff;"></div>
<div class="f" style="left:78px;top:793px;"><svg width="14" height="10"><rect width="14" height="10" fill="#eeeeee"/><circle cx="7" cy="5" r="3" fill="#c4243f"/></svg></div>
<div class="t" style="left:102px;top:784px;">IEPL日本07</div>
<div class="c" style="left:237px;top:784px;width:141px;background:#fff;">Shadowsocks</div>
<div class="c" style="left:379px;top:784px;width:93px;background:#b8f8d8;">76ms</div>
<div class="c" style="left:473px;top:784px;width:117px;background:#acf0c9;">300ms</div>
<div class="c" style="left:591px;top:784px;width:112px;background:#ff7ab5;">89.82MB</div>
<div class="c" style="left:704px;top:784px;width:111px;background:#ff4aa2;">121.57MB</div>
<div class="c" style="left:817px;top:784px;width:98px;background:#fff;"></div>
<div class="b" style="left:817.0px;top:802.0px;width:24.0px;height:10.0px;background:#ffacc3;"></div>
<div class="b" style="left:841.0px;top:792.1px;width:24.3px;height:19.9px;background:#ff7eb6;"></div>
<div class="b" style="left:865.3px;top:788.6px;width:24.5px;height:23.4px;background:#ff69ad;"></div>
<div class="b" style="left:889.8px;top:784.0px;width:25.2px;height:28.0px;background:#ff4aa2;"></div>
<div class="c" style="left:916px;top:784px;width:106px;background:#fff;">FullCone</div>
<div class="c" style="left:3px;top:813px;width:63px;background:#fff;">27</div>
<div class="c" style="left:67px;top:813px;width:169px;background:#fff;"></div>
<div class="f" style="left:78px;top:822px;"><svg width="14" height="10"><rect width="14" height="10" fill="#eeeeee"/><circle cx="7" cy="5" r="3" fill="#c4243f"/></svg></div>
<div class="t" style="left:102px;top:813px;">IEPL日本08</div>
<div class="c" style="left:237px;top:813px;width:141px;background:#fff;">Shadowsocks</div>
<div class="c" style="left:379px;top:813px;width:93px;background:#b7f7d7;">84ms</div>
<div class="c" style="left:473px;top:813px;width:117px;background:#aaefc8;">331ms</div>
<div class="c" style="left:591px;top:813px;width:112px;background:#ff60a9;">106.45MB</div>
<div class="c" style="left:704px;top:813px;width:111px;background:#ff46a1;">124.01MB</div>
<div class="c" style="left:817px;top:813px;width:98px;background:#fff;"></div>
<div class="b" style="left:817.0px;top:821.1px;width:24.0px;height:19.9px;background:#ff7cb5;"></div>
<div class="b" style="left:841.0px;top:820.1px;width:24.3px;height:20.9px;background:#ff77b4;"></div>
<div class="b" style="left:865.3px;top:814.6px;width:24.5px;height:26.4px;background:#ff50a4;"></div>
<div class="b" style="left:889.8px;top:813.4px;width:25.2px;height:27.6px;background:#ff49a2;"></div>
<div class="c" style="left:916px;top:813px;width:106px;background:#fff;">FullCone</div>
<div class="c" style="left:3px;top:842px;width:63px;background:#fff;">28</div>
<div class="c" style="left:67px;top:842px;width:169px;background:#fff;"></div>
<div class="f" style="left:78px;top:851px;"><svg width="14" height="10"><rect width="14" height="10" fill="#eeeeee"/><rect width="14" height="5" fill="#c4243f"/><circle cx="3.5" cy="2.5" r="1.6" fill="#fff"/></svg></div>
<div class="t" style="left:102px;top:842px;">IEPL | 新加坡01</div>
<div class="c" style="left:237px;top:842px;width:141px;background:#fff;">Shadowsocks</div>
<div class="c" style="left:379px;top:842px;width:93px;background:#b9f8d9;">71ms</div>
<div class="c" style="left:473px;top:842px;width:117px;background:#aef2ca;">261ms</div>
<div class="c" style="left:591px;top:842px;width:112px;background:#ff61aa;">105.34MB</div>
<div class="c" style="left:704px;top:842px;width:111px;background:#ff4da3;">119.08MB</div>
<div class="c" style="left:817px;top:842px;width:98px;background:#fff;"></div>
<div class="b" style="left:817.0px;top:852.7px;width:24.0px;height:17.3px;background:#ff86bb;"></div>
<div class="b" style="left:841.0px;top:843.3px;width:24.3px;height:26.7px;background:#ff54a5;"></div>
<div class="b" style="left:865.3px;top:842.4px;width:24.5px;height:27.6px;background:#ff4fa4;"></div>
<div class="b" style="left:889.8px;top:844.7px;width:25.2px;height:25.3px;background:#ff5ea8;"></div>
<div class="c" style="left:916px;top:842px;width:106px;background:#fff;">FullCone</div>
<div class="c" style="left:3px;top:871px;width:63px;background:#fff;">29</div>
<div class="c" style="left:67px;top:871px;width:169px;background:#fff;"></div>
<div class="f" style="left:78px;top:880px;"><svg width="14" height="10"><rect width="14" height="10" fill="#eeeeee"/><rect width="14" height="5" fill="#c4243f"/><circle cx="3.5" cy="2.5" r="1.6" fill="#fff"/></svg></div>
<div class="t" style="left:102px;top:871px;">中继 | 新加坡02</div>
<div class="c" style="left:237px;top:871px;width:141px;background:#fff;">Shadowsocks</div>
<div class="c" style="left:379px;top:871px;width:93px;background:#b5f6d3;">117ms</div>
<div class="c" style="left:473px;top:871px;width:117px;background:#a5e9c4;">418ms</div>
<div class="c" style="left:591px;top:871px;width:112px;background:#ff50a4;">117.02MB</div>
<div class="c" style="left:704px;top:871px;width:111px;background:#ff309c;">155.32MB</div>
<div class="c" style="left:817px;top:871px;width:98px;background:#fff;"></div>
<div class="b" style="left:817.0px;top:885.9px;width:24.0px;height:13.1px;background:#ff87bc;"></div>
<div class="b" style="left:841.0px;top:877.9px;width:24.3px;height:21.1px;background:#ff50a4;"></div>
<div class="b" style="left:865.3px;top:878.9px;width:24.5px;height:20.1px;background:#ff57a6;"></div>
<div class="b" style="left:889.8px;top:871.0px;width:25.2px;height:28.0px;background:#ff309c;"></div>
<div class="c" style="left:916px;top:871px;width:106px;background:#fff;">Unknown</div>
<div class="c" style="left:3px;top:900px;width:63px;background:#fff;">30</div>
<div class="c" style="left:67px;top:900px;width:169px;background:#fff;"></div>
<div class="f" style="left:78px;top:909px;"><svg width="14" height="10"><rect width="14" height="10" fill="#eeeeee"/><rect width="14" height="5" fill="#c4243f"/><circle cx="3.5" cy="2.5" r="1.6" fill="#fff"/></svg></div>
<div class="t" style="left:102px;top:900px;">IEPL | 新加坡03</div>
<div class="c" style="left:237px;top:900px;width:141px;background:#fff;">Shadowsocks</div>
<div class="c" style="left:379px;top:900px;width:93px;background:#b9f9da;">65ms</div>
<div class="c" style="left:473px;top:900px;width:117px;background:#aff3cb;">242ms</div>
<div class="c" style="left:591px;top:900px;width:112px;background:#ff63aa;">104.72MB</div>
<div class="c" style="left:704px;top:900px;width:111px;background:#ff4ba3;">120.75MB</div>
<div class="c" style="left:817px;top:900px;width:98px;background:#fff;"></div>
<div class="b" style="left:817.0px;top:910.1px;width:24.0px;height:17.9px;background:#ff83b9;"></div>
<div class="b" style="left:841.0px;top:902.1px;width:24.3px;height:25.9px;background:#ff57a6;"></div>
<div class="b" style="left:865.3px;top:900.2px;width:24.5px;height:27.8px;background:#ff4ca3;"></div>
<div class="b" style="left:889.8px;top:903.9px;width:25.2px;height:24.1px;background:#ff64ab;"></div>
<div class="c" style="left:916px;top:900px;width:106px;background:#fff;">FullCone</div>
<div class="c" style="left:3px;top:929px;width:63px;background:#fff;">31</div>
<div class="c" style="left:67px;top:929px;width:169px;background:#fff;"></div>
<div class="f" style="left:78px;top:938px;"><svg width="14" height="10"><rect width="14" height="10" fill="#eeeeee"/><rect width="14" height="5" fill="#c4243f"/><circle cx="3.5" cy="2.5" r="1.6" fill="#fff"/></svg></div>
<div class="t" style="left:102px;top:929px;">中继 | 新加坡04</div>
<div class="c" style="left:237px;top:929px;width:141px;background:#fff;">Shadowsocks</div>
<div class="c" style="left:379px;top:929px;width:93px;background:#b5f6d4;">107ms</div>
<div class="c" style="left:473px;top:929px;width:117px;background:#a7ecc6;">392ms</div>
<div class="c" style="left:591px;top:929px;width:112px;background:#ff7eb6;">85.94MB</div>
<div class="c" style="left:704px;top:929px;width:111px;background:#ff62aa;">104.78MB</div>
<div class="c" style="left:817px;top:929px;width:98px;background:#fff;"></div>
<div class="b" style="left:817.0px;top:940.2px;width:24.0px;height:16.8px;background:#ff94c0;"></div>
<div class="b" style="left:841.0px;top:929.0px;width:24.3px;height:28.0px;background:#ff62aa;"></div>
<div class="b" style="left:865.3px;top:934.0px;width:24.5px;height:23.0px;background:#ff7eb6;"></div>
<div class="b" style="left:889.8px;top:933.3px;width:25.2px;height:23.7px;background:#ff7bb5;"></div>
<div class="c" style="left:916px;top:929px;width:106px;background:#fff;">FullCone</div>
<div class="c" style="left:3px;top:958px;width:63px;background:#fff;">32</div>
<div class="c" style="left:67px;top:958px;width:169px;background:#fff;"></div>
<div class="f" style="left:78px;top:967px;"><svg width="14" height="10"><rect width="14" height="10" fill="#eeeeee"/><rect width="14" height="5" fill="#c4243f"/><circle cx="3.5" cy="2.5" r="1.6" fill="#fff"/></svg></div>
<div class="t" style="left:102px;top:958px;">IEPL | 新加坡05</div>
<div class="c" style="left:237px;top:958px;width:141px;background:#fff;">Shadowsocks</div>
<div class="c" style="left:379px;top:958px;width:93px;background:#b9f9da;">64ms</div>
<div class="c" style="left:473px;top:958px;width:117px;background:#aef2cb;">252ms</div>
<div class="c" style="left:591px;top:958px;width:112px;background:#ff66ac;">103.02MB</div>
<div class="c" style="left:704px;top:958px;width:111px;background:#ff52a4;">115.57MB</div>
<div class="c" style="left:817px;top:958px;width:98px;background:#fff;"></div>
<div class="b" style="left:817.0px;top:968.8px;width:24.0px;height:17.2px;background:#ff89bd;"></div>
<div class="b" style="left:841.0px;top:958.3px;width:24.3px;height:27.7px;background:#ff53a5;"></div>
<div class="b" style="left:865.3px;top:960.1px;width:24.5px;height:25.9px;background:#ff5fa9;"></div>
<div class="b" style="left:889.8px;top:959.2px;width:25.2px;height:26.8px;background:#ff59a6;"></div>
<div class="c" style="left:916px;top:958px;width:106px;background:#fff;">FullCone</div>
<div class="c" style="left:3px;top:987px;width:63px;background:#fff;">33</div>
<div class="c" style="left:67px;top:987px;width:169px;background:#fff;"></div>
<div class="f" style="left:78px;top:996px;"><svg width="14" height="10"><rect width="14" height="10" fill="#eeeeee"/><rect width="14" height="5" fill="#c4243f"/><circle cx="3.5" cy="2.5" r="1.6" fill="#fff"/></svg></div>
<div class="t" style="left:102px;top:987px;">中继 | 新加坡06</div>
<div class="c" style="left:237px;top:987px;width:141px;background:#fff;">Shadowsocks</div>
<div class="c" style="left:379px;top:987px;width:93px;background:#b6f6d5;">99ms</div>
<div class="c" style="left:473px;top:987px;width:117px;background:#aaefc8;">341ms</div>
<div class="c" style="left:591px;top:987px;width:112px;background:#ff7fb7;">83.87MB</div>
<div class="c" style="left:704px;top:987px;width:111px;background:#ff70b1;">98.05MB</div>
<div class="c" style="left:817px;top:987px;width:98px;background:#fff;"></div>
<div class="b" style="left:817.0px;top:997.4px;width:24.0px;height:17.6px;background:#ff96c0;"></div>
<div class="b" style="left:841.0px;top:987.0px;width:24.3px;height:28.0px;background:#ff70b1;"></div>
<div class="b" style="left:865.3px;top:993.1px;width:24.5px;height:21.9px;background:#ff83b9;"></div>
<div class="b" style="left:889.8px;top:988.8px;width:25.2px;height:26.2px;background:#ff78b4;"></div>
<div class="c" style="left:916px;top:987px;width:106px;background:#fff;">FullCone</div>
<div class="c" style="left:3px;top:1016px;width:63px;background:#fff;">34</div>
<div class="c" style="left:67px;top:1016px;width:169px;background:#fff;"></div>
<div class="f" style="left:78px;top:1025px;"><svg width="14" height="10"><rect width="14" height="10" fill="#eeeeee"/><rect width="14" height="5" fill="#c4243f"/><circle cx="3.5" cy="2.5" r="1.6" fill="#fff"/></svg></div>
<div class="t" style="left:102px;top:1016px;">IEPL | 新加坡07</div>
<div class="c" style="left:237px;top:1016px;width:141px;background:#fff;">Shadowsocks</div>
<div class="c" style="left:379px;top:1016px;width:93px;background:#b8f8d9;">72ms</div>
<div class="c" style="left:473px;top:1016px;width:117px;background:#aaefc8;">338ms</div>
<div class="c" style="left:591px;top:1016px;width:112px;background:#ff69ad;">101.58MB</div>
<div class="c" style="left:704px;top:1016px;width:111px;background:#ff45a1;">124.66MB</div>
<div class="c" style="left:817px;top:1016px;width:98px;background:#fff;"></div>
<div class="b" style="left:817.0px;top:1026.3px;width:24.0px;height:17.7px;background:#ff82b8;"></div>
<div class="b" style="left:841.0px;top:1025.1px;width:24.3px;height:18.9px;background:#ff7fb6;"></div>
<div class="b" style="left:865.3px;top:1016.0px;width:24.5px;height:28.0px;background:#ff45a1;"></div>
<div class="b" style="left:889.8px;top:1018.9px;width:25.2px;height:25.1px;background:#ff57a6;"></div>
<div class="c" style="left:916px;top:1016px;width:106px;background:#fff;">FullCone</div>
<div class="c" style="left:3px;top:1045px;width:63px;background:#fff;">35</div>
<div class="c" style="left:67px;top:1045px;width:169px;background:#fff;"></div>
<div class="f" style="left:78px;top:1054px;"><svg width="14" height="10"><rect width="14" height="10" fill="#eeeeee"/><rect width="14" height="5" fill="#c4243f"/><circle cx="3.5" cy="2.5" r="1.6" fill="#fff"/></svg></div>
<div class="t" style="left:102px;top:1045px;">中继 | 新加坡08</div>
<div class="c" style="left:237px;top:1045px;width:141px;background:#fff;">Shadowsocks</div>
<div class="c" style="left:379px;top:1045px;width:93px;background:#b5f6d4;">108ms</div>
<div class="c" style="left:473px;top:1045px;width:117px;background:#aaefc7;">347ms</div>
<div class="c" style="left:591px;top:1045px;width:112px;background:#ff7eb6;">86.05MB</div>
<div class="c" style="left:704px;top:1045px;width:111px;background:#ff5fa9;">106.75MB</div>
<div class="c" style="left:817px;top:1045px;width:98px;background:#fff;"></div>
<div class="b" style="left:817.0px;top:1057.0px;width:24.0px;height:16.0px;background:#ff96c0;"></div>
<div class="b" style="left:841.0px;top:1045.0px;width:24.3px;height:28.0px;background:#ff5fa9;"></div>
<div class="b" style="left:865.3px;top:1051.2px;width:24.5px;height:21.8px;background:#ff7fb7;"></div>
<div class="b" style="left:889.8px;top:1050.1px;width:25.2px;height:22.9px;background:#ff7db6;"></div>
<div class="c" style="left:916px;top:1045px;width:106px;background:#fff;">FullCone</div>
<div class="c" style="left:3px;top:1074px;width:63px;background:#fff;">36</div>
<div class="c" style="left:67px;top:1074px;width:169px;background:#fff;"></div>
<div class="f" style="left:78px;top:1083px;"><svg width="14" height="10"><rect width="14" height="10" fill="#eeeeee"/><rect width="14" height="5" fill="#c4243f"/><circle cx="3.5" cy="2.5" r="1.6" fill="#fff"/></svg></div>
<div class="t" style="left:102px;top:1074px;">中继 | 新加坡09</div>
<div class="c" style="left:237px;top:1074px;width:141px;background:#fff;">Shadowsocks</div>
<div class="c" style="left:379px;top:1074px;width:93px;background:#b9f8d9;">68ms</div>
<div class="c" style="left:473px;top:1074px;width:117px;background:#aef2cb;">250ms</div>
<div class="c" style="left:591px;top:1074px;width:112px;background:#ff73b2;">96.56MB</div>
<div class="c" style="left:704px;top:1074px;width:111px;background:#ff56a5;">112.27MB</div>
<div class="c" style="left:817px;top:1074px;width:98px;background:#fff;"></div>
<div class="b" style="left:817.0px;top:1080.5px;width:24.0px;height:21.5px;background:#ff7eb6;"></div>
<div class="b" style="left:841.0px;top:1081.7px;width:24.3px;height:20.3px;background:#ff80b7;"></div>
<div class="b" style="left:865.3px;top:1074.0px;width:24.5px;height:28.0px;background:#ff56a5;"></div>
<div class="b" style="left:889.8px;top:1077.0px;width:25.2px;height:25.0px;background:#ff6caf;"></div>
<div class="c" style="left:916px;top:1074px;width:106px;background:#fff;">FullCone</div>
<div class="c" style="left:3px;top:1103px;width:63px;background:#fff;">37</div>
<div class="c" style="left:67px;top:1103px;width:169px;background:#fff;"></div>
<div class="f" style="left:78px;top:1112px;"><svg width="14" height="10"><rect width="14" height="10" fill="#eeeeee"/><rect width="14" height="5" fill="#c4243f"/><circle cx="3.5" cy="2.5" r="1.6" fill="#fff"/></svg></div>
<div class="t" style="left:102px;top:1103px;">中继 | 新加坡10</div>
<div class="c" style="left:237px;top:1103px;width:141px;background:#fff;">Shadowsocks</div>
<div class="c" style="left:379px;top:1103px;width:93px;background:#b5f6d4;">110ms</div>
<div class="c" style="left:473px;top:1103px;width:117px;background:#a9eec7;">371ms</div>
<div class="c" style="left:591px;top:1103px;width:112px;background:#ff82b8;">78.87MB</div>
<div class="c" style="left:704px;top:1103px;width:111px;background:#ff7cb5;">88.44MB</div>
<div class="c" style="left:817px;top:1103px;width:98px;background:#fff;"></div>
<div class="b" style="left:817.0px;top:1109.9px;width:24.0px;height:21.1px;background:#ff8ec0;"></div>
<div class="b" style="left:841.0px;top:1104.1px;width:24.3px;height:26.9px;background:#ff7fb6;"></div>
<div class="b" style="left:865.3px;top:1109.2px;width:24.5px;height:21.8px;background:#ff8cbf;"></div>
<div class="b" style="left:889.8px;top:1103.0px;width:25.2px;height:28.0px;background:#ff7cb5;"></div>
<div class="c" style="left:916px;top:1103px;width:106px;background:#fff;">Unknown</div>
<div class="c" style="left:3px;top:1132px;width:63px;background:#fff;">38</div>
<div class="c" style="left:67px;top:1132px;width:169px;background:#fff;"></div>
<div class="f" style="left:78px;top:1141px;"><svg width="14" height="10"><rect width="14" height="10" fill="#e5648e"/><rect y="1.4" width="14" height="1.4" fill="#f3c8d4"/><rect y="4.2" width="14" height="1.4" fill="#f3c8d4"/><rect y="7" width="14" height="1.4" fill="#f3c8d4"/><rect width="6" height="5" fill="#4b5aa0"/></svg></div>
<div class="t" style="left:102px;top:1132px;">IEPL美国01</div>
<div class="c" style="left:237px;top:1132px;width:141px;background:#fff;">Shadowsocks</div>
<div class="c" style="left:379px;top:1132px;width:93px;background:#b1f4cd;">201ms</div>
<div class="c" style="left:473px;top:1132px;width:117px;background:#64a07e;">1678ms</div>
<div class="c" style="left:591px;top:1132px;width:112px;background:#ffbecb;">31.01MB</div>
<div class="c" style="left:704px;top:1132px;width:111px;background:#ffa9c2;">45.62MB</div>
<div class="c" style="left:817px;top:1132px;width:98px;background:#fff;"></div>
<div class="b" style="left:817.0px;top:1153.1px;width:24.0px;height:6.9px;background:#ffd4cf;"></div>
<div class="b" style="left:841.0px;top:1137.6px;width:24.3px;height:22.4px;background:#ffafc3;"></div>
<div class="b" style="left:865.3px;top:1134.8px;width:24.5px;height:25.2px;background:#ffa8c2;"></div>
<div class="b" style="left:889.8px;top:1146.9px;width:25.2px;height:13.1px;background:#ffc7cd;"></div>
<div class="c" style="left:916px;top:1132px;width:106px;background:#fff;">Unknown</div>
<div class="c" style="left:3px;top:1161px;width:63px;background:#fff;">39</div>
<div class="c" style="left:67px;top:1161px;width:169px;background:#fff;"></div>
<div class="f" style="left:78px;top:1170px;"><svg width="14" height="10"><rect width="14" height="10" fill="#e5648e"/><rect y="1.4" width="14" height="1.4" fill="#f3c8d4"/><rect y="4.2" width="14" height="1.4" fill="#f3c8d4"/><rect y="7" width="14" height="1.4" fill="#f3c8d4"/><rect width="6" height="5" fill="#4b5aa0"/></svg></div>
<div class="t" style="left:102px;top:1161px;">中继美国03</div>
<div class="c" style="left:237px;top:1161px;width:141px;background:#fff;">Shadowsocks</div>
<div class="c" style="left:379px;top:1161px;width:93px;background:#aff3cc;">233ms</div>
<div class="c" style="left:473px;top:1161px;width:117px;background:#94d8ae;">744ms</div>
<div class="c" style="left:591px;top:1161px;width:112px;background:#ff8dbf;">68.05MB</div>
<div class="c" style="left:704px;top:1161px;width:111px;background:#ff77b4;">92.94MB</div>
<div class="c" style="left:817px;top:1161px;width:98px;background:#fff;"></div>
<div class="b" style="left:817.0px;top:1183.2px;width:24.0px;height:5.8px;background:#ffcbcd;"></div>
<div class="b" style="left:841.0px;top:1163.2px;width:24.3px;height:25.8px;background:#ff7eb6;"></div>
<div class="b" style="left:865.3px;top:1161.2px;width:24.5px;height:27.8px;background:#ff77b4;"></div>
<div class="b" style="left:889.8px;top:1167.6px;width:25.2px;height:21.4px;background:#ff89bd;"></div>
<div class="c" style="left:916px;top:1161px;width:106px;background:#fff;">Unknown</div>
<div class="c" style="left:3px;top:1190px;width:63px;background:#fff;">40</div>
<div class="c" style="left:67px;top:1190px;width:169px;background:#fff;"></div>
<div class="f" style="left:78px;top:1199px;"><svg width="14" height="10"><rect width="14" height="10" fill="#c4243f"/><rect width="7" height="5" fill="#1c2a7a"/><circle cx="3.5" cy="2.5" r="1.4" fill="#fff"/></svg></div>
<div class="t" style="left:102px;top:1190px;">IEPL台湾01</div>
<div class="c" style="left:237px;top:1190px;width:141px;background:#fff;">Shadowsocks</div>
<div class="c" style="left:379px;top:1190px;width:93px;background:#bcfbdd;">42ms</div>
<div class="c" style="left:473px;top:1190px;width:117px;background:#b2f5ce;">182ms</div>
<div class="c" style="left:591px;top:1190px;width:112px;background:#ff61a9;">105.87MB</div>
<div class="c" style="left:704px;top:1190px;width:111px;background:#ff51a4;">116.37MB</div>
<div class="c" style="left:817px;top:1190px;width:98px;background:#fff;"></div>
<div class="b" style="left:817.0px;top:1196.3px;width:24.0px;height:21.7px;background:#ff7ab5;"></div>
<div class="b" style="left:841.0px;top:1190.3px;width:24.3px;height:27.7px;background:#ff52a4;"></div>
<div class="b" style="left:865.3px;top:1191.2px;width:24.5px;height:26.8px;background:#ff58a6;"></div>
<div class="b" style="left:889.8px;top:1194.0px;width:25.2px;height:24.0px;background:#ff6daf;"></div>
<div class="c" style="left:916px;top:1190px;width:106px;background:#fff;">Unknown</div>
<div class="c" style="left:3px;top:1219px;width:63px;background:#fff;">41</div>
<div class="c" style="left:67px;top:1219px;width:169px;background:#fff;"></div>
<div class="f" style="left:78px;top:1228px;"><svg width="14" height="10"><rect width="14" height="10" fill="#c4243f"/><rect width="7" height="5" fill="#1c2a7a"/><circle cx="3.5" cy="2.5" r="1.4" fill="#fff"/></svg></div>
<div class="t" style="left:102px;top:1219px;">中继台湾02</div>
<div class="c" style="left:237px;top:1219px;width:141px;background:#fff;">Shadowsocks</div>
<div class="c" style="left:379px;top:1219px;width:93px;background:#b6f6d6;">93ms</div>
<div class="c" style="left:473px;top:1219px;width:117px;background:#abf0c8;">315ms</div>
<div class="c" style="left:591px;top:1219px;width:112px;background:#ff81b8;">79.77MB</div>
<div class="c" style="left:704px;top:1219px;width:111px;background:#ff7eb6;">86.23MB</div>
<div class="c" style="left:817px;top:1219px;width:98px;background:#fff;"></div>
<div class="b" style="left:817.0px;top:1223.8px;width:24.0px;height:23.2px;background:#ff89bc;"></div>
<div class="b" style="left:841.0px;top:1220.8px;width:24.3px;height:26.2px;background:#ff81b7;"></div>
<div class="b" style="left:865.3px;top:1220.8px;width:24.5px;height:26.2px;background:#ff81b7;"></div>
<div class="b" style="left:889.8px;top:1219.0px;width:25.2px;height:28.0px;background:#ff7eb6;"></div>
<div class="c" style="left:916px;top:1219px;width:106px;background:#fff;">Unknown</div>
<div class="c" style="left:3px;top:1248px;width:63px;background:#fff;">42</div>
<div class="c" style="left:67px;top:1248px;width:169px;background:#fff;"></div>
<div class="f" style="left:78px;top:1257px;"><svg width="14" height="10"><rect width="14" height="10" fill="#fff"/><rect width="14" height="2" fill="#c4243f"/><rect y="8" width="14" height="2" fill="#c4243f"/><rect y="3.3" width="14" height="3.4" fill="#111"/></svg></div>
<div class="t" style="left:102px;top:1248px;">IEPL泰国 | 住宅</div>
<div class="c" style="left:237px;top:1248px;width:141px;background:#fff;">Shadowsocks</div>
<div class="c" style="left:379px;top:1248px;width:93px;background:#b2f5ce;">184ms</div>
<div class="c" style="left:473px;top:1248px;width:117px;background:#99e2b8;">603ms</div>
<div class="c" style="left:591px;top:1248px;width:112px;background:#ffb9c9;">33.88MB</div>
<div class="c" style="left:704px;top:1248px;width:111px;background:#ffb7c8;">35.32MB</div>
<div class="c" style="left:817px;top:1248px;width:98px;background:#fff;"></div>
<div class="b" style="left:817.0px;top:1256.5px;width:24.0px;height:19.5px;background:#ffb7c7;"></div>
<div class="b" style="left:841.0px;top:1257.1px;width:24.3px;height:18.9px;background:#ffb9c9;"></div>
<div class="b" style="left:865.3px;top:1258.0px;width:24.5px;height:18.0px;background:#ffbbca;"></div>
<div class="b" style="left:889.8px;top:1257.7px;width:25.2px;height:18.3px;background:#ffbaca;"></div>
<div class="c" style="left:916px;top:1248px;width:106px;background:#fff;">FullCone</div>
<div class="c" style="left:3px;top:1277px;width:63px;background:#fff;">43</div>
<div class="c" style="left:67px;top:1277px;width:169px;background:#fff;"></div>
<div class="f" style="left:78px;top:1286px;"><svg width="14" height="10"><rect width="14" height="10" fill="#c4243f"/><circle cx="7" cy="5" r="1.8" fill="#f5c000"/></svg></div>
<div class="t" style="left:102px;top:1277px;">IEPL越南 | 原生</div>
<div class="c" style="left:237px;top:1277px;width:141px;background:#fff;">Shadowsocks</div>
<div class="c" style="left:379px;top:1277px;width:93px;background:#b4f6d1;">136ms</div>
<div class="c" style="left:473px;top:1277px;width:117px;background:#a4e8c2;">474ms</div>
<div class="c" style="left:591px;top:1277px;width:112px;background:#ffcbcd;">19.54MB</div>
<div class="c" style="left:704px;top:1277px;width:111px;background:#ffb8c8;">34.69MB</div>
<div class="c" style="left:817px;top:1277px;width:98px;background:#fff;"></div>
<div class="b" style="left:817.0px;top:1302.1px;width:24.0px;height:2.9px;background:#ffded4;"></div>
<div class="b" style="left:841.0px;top:1298.0px;width:24.3px;height:7.0px;background:#ffd4cf;"></div>
<div class="b" style="left:865.3px;top:1291.8px;width:24.5px;height:13.2px;background:#ffc7cd;"></div>
<div class="b" style="left:889.8px;top:1286.0px;width:25.2px;height:19.0px;background:#ffb8c8;"></div>
<div class="c" style="left:916px;top:1277px;width:106px;background:#fff;">Unknown</div>
<div class="c" style="left:3px;top:1306px;width:63px;background:#fff;">44</div>
<div class="c" style="left:67px;top:1306px;width:169px;background:#fff;"></div>
<div class="f" style="left:78px;top:1315px;"><svg width="14" height="10"><rect width="14" height="10" fill="#f0a0b8"/><rect y="1.5" width="14" height="1.2" fill="#fce0e8"/><rect y="4.5" width="14" height="1.2" fill="#fce0e8"/><rect y="7.5" width="14" height="1.2" fill="#fce0e8"/><rect width="6" height="5.5" fill="#2a3a80"/><circle cx="3" cy="2.7" r="1.3" fill="#e8c000"/></svg></div>
<div class="t" style="left:102px;top:1306px;">马来西亚 | 住宅</div>
<div class="c" style="left:237px;top:1306px;width:141px;background:#fff;">Shadowsocks</div>
<div class="c" style="left:379px;top:1306px;width:93px;background:#b5f6d3;">118ms</div>
<div class="c" style="left:473px;top:1306px;width:117px;background:#a5e9c4;">416ms</div>
<div class="c" style="left:591px;top:1306px;width:112px;background:#ffd9d1;">9.20MB</div>
<div class="c" style="left:704px;top:1306px;width:111px;background:#ffd5cf;">12.36MB</div>
<div class="c" style="left:817px;top:1306px;width:98px;background:#fff;"></div>
<div class="b" style="left:817.0px;top:1332.2px;width:24.0px;height:1.8px;background:#ffe0d5;"></div>
<div class="b" style="left:841.0px;top:1327.7px;width:24.3px;height:6.3px;background:#ffd6d0;"></div>
<div class="b" style="left:865.3px;top:1328.7px;width:24.5px;height:5.3px;background:#ffd8d0;"></div>
<div class="b" style="left:889.8px;top:1329.2px;width:25.2px;height:4.8px;background:#ffdad1;"></div>
<div class="c" style="left:916px;top:1306px;width:106px;background:#fff;">FullCone</div>
<div class="c" style="left:3px;top:1335px;width:63px;background:#fff;">45</div>
<div class="c" style="left:67px;top:1335px;width:169px;background:#fff;"></div>
<div class="f" style="left:78px;top:1344px;"><svg width="14" height="10"><rect width="14" height="3.4" fill="#111"/><rect y="3.3" width="14" height="3.4" fill="#c4243f"/><rect y="6.6" width="14" height="3.4" fill="#f5b000"/></svg></div>
<div class="t" style="left:102px;top:1335px;">德国</div>
<div class="c" style="left:237px;top:1335px;width:141px;background:#fff;">Shadowsocks</div>
<div class="c" style="left:379px;top:1335px;width:93px;background:#a9eec7;">371ms</div>
<div class="c" style="left:473px;top:1335px;width:117px;background:#7ac598;">1151ms</div>
<div class="c" style="left:591px;top:1335px;width:112px;background:#ffe5d7;">632.06KB</div>
<div class="c" style="left:704px;top:1335px;width:111px;background:#ffe3d7;">1.41MB</div>
<div class="c" style="left:817px;top:1335px;width:98px;background:#fff;"></div>
<div class="b" style="left:817.0px;top:1362.4px;width:24.0px;height:0.6px;background:#ffe4d7;"></div>
<div class="b" style="left:841.0px;top:1362.3px;width:24.3px;height:0.7px;background:#ffe3d7;"></div>
<div class="b" style="left:865.3px;top:1362.3px;width:24.5px;height:0.7px;background:#ffe3d7;"></div>
<div class="b" style="left:889.8px;top:1362.4px;width:25.2px;height:0.6px;background:#ffe4d7;"></div>
<div class="c" style="left:916px;top:1335px;width:106px;background:#fff;">Unknown</div>
<div class="c" style="left:3px;top:1364px;width:63px;background:#fff;">46</div>
<div class="c" style="left:67px;top:1364px;width:169px;background:#fff;"></div>
<div class="f" style="left:78px;top:1373px;"><svg width="14" height="10"><rect width="14" height="10" fill="#fff"/><circle cx="7" cy="5" r="2.6" fill="#c4243f"/><path d="M4.4 5a2.6 2.6 0 0 0 5.2 0z" fill="#1c2a7a"/><rect x="1" y="1" width="2" height="2" fill="#444"/><rect x="11" y="1" width="2" height="2" fill="#444"/><rect x="1" y="7" width="2" height="2" fill="#444"/><rect x="11" y="7" width="2" height="2" fill="#444"/></svg></div>
<div class="t" style="left:102px;top:1364px;">韩国</div>
<div class="c" style="left:237px;top:1364px;width:141px;background:#fff;">Shadowsocks</div>
<div class="c" style="left:379px;top:1364px;width:93px;background:#b3f6cf;">152ms</div>
<div class="c" style="left:473px;top:1364px;width:117px;background:#9ae4ba;">580ms</div>
<div class="c" style="left:591px;top:1364px;width:112px;background:#ff82b8;">78.00MB</div>
<div class="c" style="left:704px;top:1364px;width:111px;background:#ff71b1;">97.62MB</div>
<div class="c" style="left:817px;top:1364px;width:98px;background:#fff;"></div>
<div class="b" style="left:817.0px;top:1374.8px;width:24.0px;height:17.2px;background:#ff98c0;"></div>
<div class="b" style="left:841.0px;top:1364.2px;width:24.3px;height:27.8px;background:#ff72b2;"></div>
<div class="b" style="left:865.3px;top:1371.3px;width:24.5px;height:20.7px;background:#ff88bc;"></div>
<div class="b" style="left:889.8px;top:1370.2px;width:25.2px;height:21.8px;background:#ff84b9;"></div>
<div class="c" style="left:916px;top:1364px;width:106px;background:#fff;">Unknown</div>
<div class="c" style="left:3px;top:1393px;width:63px;background:#fff;">47</div>
<div class="c" style="left:67px;top:1393px;width:169px;background:#fff;"></div>
<div class="f" style="left:78px;top:1402px;"><svg width="14" height="10"><rect width="14" height="10" fill="#fff"/><rect width="3.5" height="10" fill="#c4243f"/><rect x="10.5" width="3.5" height="10" fill="#c4243f"/><path d="M7 2.5l1.6 2.6h-1v1.5h-1.2v-1.5h-1z" fill="#c4243f"/></svg></div>
<div class="t" style="left:102px;top:1393px;">加拿大</div>
<div class="c" style="left:237px;top:1393px;width:141px;background:#fff;">Shadowsocks</div>
<div class="c" style="left:379px;top:1393px;width:93px;background:#adf1c9;">280ms</div>
<div class="c" style="left:473px;top:1393px;width:117px;background:#88d4a6;">915ms</div>
<div class="c" style="left:591px;top:1393px;width:112px;background:#ff8ec0;">67.05MB</div>
<div class="c" style="left:704px;top:1393px;width:111px;background:#ff63aa;">104.67MB</div>
<div class="c" style="left:817px;top:1393px;width:98px;background:#fff;"></div>
<div class="b" style="left:817.0px;top:1420.0px;width:24.0px;height:1.0px;background:#ffe0d5;"></div>
<div class="b" style="left:841.0px;top:1404.2px;width:24.3px;height:16.8px;background:#ff94c0;"></div>
<div class="b" style="left:865.3px;top:1393.2px;width:24.5px;height:27.8px;background:#ff64ab;"></div>
<div class="b" style="left:889.8px;top:1397.3px;width:25.2px;height:23.7px;background:#ff7bb5;"></div>
<div class="c" style="left:916px;top:1393px;width:106px;background:#fff;">FullCone</div>
<div class="c" style="left:3px;top:1422px;width:63px;background:#fff;">48</div>
<div class="c" style="left:67px;top:1422px;width:169px;background:#fff;"></div>
<div class="f" style="left:78px;top:1431px;"><svg width="14" height="10"><rect width="14" height="10" fill="#eeeeee"/><rect width="14" height="5" fill="#c4243f"/></svg></div>
<div class="t" style="left:102px;top:1422px;">&nbsp;印度尼西亚</div>
<div class="c" style="left:237px;top:1422px;width:141px;background:#fff;">Shadowsocks</div>
<div class="c" style="left:379px;top:1422px;width:93px;background:#b4f6d1;">136ms</div>
<div class="c" style="left:473px;top:1422px;width:117px;background:#a4e8c3;">457ms</div>
<div class="c" style="left:591px;top:1422px;width:112px;background:#ffc3cd;">27.35MB</div>
<div class="c" style="left:704px;top:1422px;width:111px;background:#ffb2c4;">38.97MB</div>
<div class="c" style="left:817px;top:1422px;width:98px;background:#fff;"></div>
<div class="b" style="left:817.0px;top:1449.0px;width:24.0px;height:1.0px;background:#ffe2d6;"></div>
<div class="b" style="left:841.0px;top:1433.2px;width:24.3px;height:16.8px;background:#ffbecc;"></div>
<div class="b" style="left:865.3px;top:1429.0px;width:24.5px;height:21.0px;background:#ffb3c5;"></div>
<div class="b" style="left:889.8px;top:1430.3px;width:25.2px;height:19.7px;background:#ffb6c7;"></div>
<div class="c" style="left:916px;top:1422px;width:106px;background:#fff;">FullCone</div>
<div class="c" style="left:3px;top:1451px;width:63px;background:#fff;">49</div>
<div class="c" style="left:67px;top:1451px;width:169px;background:#fff;"></div>
<div class="f" style="left:78px;top:1460px;"><svg width="14" height="10"><rect width="14" height="10" fill="#fff"/><rect width="4.7" height="10" fill="#3a7050"/><rect x="9.3" width="4.7" height="10" fill="#c4243f"/></svg></div>
<div class="t" style="left:102px;top:1451px;">意大利</div>
<div class="c" style="left:237px;top:1451px;width:141px;background:#fff;">Shadowsocks</div>
<div class="c" style="left:379px;top:1451px;width:93px;background:#aff2cb;">246ms</div>
<div class="c" style="left:473px;top:1451px;width:117px;background:#8fd6aa;">807ms</div>
<div class="c" style="left:591px;top:1451px;width:112px;background:#ff82b8;">78.78MB</div>
<div class="c" style="left:704px;top:1451px;width:111px;background:#ff52a4;">115.66MB</div>
<div class="c" style="left:817px;top:1451px;width:98px;background:#fff;"></div>
<div class="b" style="left:817.0px;top:1476.9px;width:24.0px;height:2.1px;background:#ffdad1;"></div>
<div class="b" style="left:841.0px;top:1460.2px;width:24.3px;height:18.8px;background:#ff82b8;"></div>
<div class="b" style="left:865.3px;top:1452.9px;width:24.5px;height:26.1px;background:#ff5da8;"></div>
<div class="b" style="left:889.8px;top:1451.0px;width:25.2px;height:28.0px;background:#ff52a4;"></div>
<div class="c" style="left:916px;top:1451px;width:106px;background:#fff;">FullCone</div>
<div class="c" style="left:3px;top:1480px;width:63px;background:#fff;">50</div>
<div class="c" style="left:67px;top:1480px;width:169px;background:#fff;"></div>
<div class="f" style="left:78px;top:1489px;"><svg width="14" height="10"><rect width="14" height="10" fill="#fff"/><rect width="4.7" height="10" fill="#1a2a8a"/><rect x="9.3" width="4.7" height="10" fill="#c4243f"/></svg></div>
<div class="t" style="left:102px;top:1480px;">法国</div>
<div class="c" style="left:237px;top:1480px;width:141px;background:#fff;">Shadowsocks</div>
<div class="c" style="left:379px;top:1480px;width:93px;background:#aef2cb;">254ms</div>
<div class="c" style="left:473px;top:1480px;width:117px;background:#8fd6aa;">798ms</div>
<div class="c" style="left:591px;top:1480px;width:112px;background:#ff85ba;">75.02MB</div>
<div class="c" style="left:704px;top:1480px;width:111px;background:#ff53a5;">114.34MB</div>
<div class="c" style="left:817px;top:1480px;width:98px;background:#fff;"></div>
<div class="b" style="left:817.0px;top:1506.0px;width:24.0px;height:2.0px;background:#ffdad1;"></div>
<div class="b" style="left:841.0px;top:1490.8px;width:24.3px;height:17.2px;background:#ff8abd;"></div>
<div class="b" style="left:865.3px;top:1482.8px;width:24.5px;height:25.2px;background:#ff66ac;"></div>
<div class="b" style="left:889.8px;top:1480.0px;width:25.2px;height:28.0px;background:#ff53a5;"></div>
<div class="c" style="left:916px;top:1480px;width:106px;background:#fff;">Unknown</div>
<div class="c" style="left:3px;top:1509px;width:63px;background:#fff;">51</div>
<div class="c" style="left:67px;top:1509px;width:169px;background:#fff;"></div>
<div class="f" style="left:78px;top:1518px;"><svg width="14" height="10"><rect width="14" height="10" fill="#c4243f"/><rect y="2.5" width="14" height="5" fill="#f5b800"/><rect x="3" y="4" width="2" height="2" fill="#c04060"/></svg></div>
<div class="t" style="left:102px;top:1509px;">西班牙</div>
<div class="c" style="left:237px;top:1509px;width:141px;background:#fff;">Shadowsocks</div>
<div class="c" style="left:379px;top:1509px;width:93px;background:#aef2ca;">257ms</div>
<div class="c" style="left:473px;top:1509px;width:117px;background:#8dd6a9;">826ms</div>
<div class="c" style="left:591px;top:1509px;width:112px;background:#ffbfcc;">30.18MB</div>
<div class="c" style="left:704px;top:1509px;width:111px;background:#ffa1c0;">52.48MB</div>
<div class="c" style="left:817px;top:1509px;width:98px;background:#fff;"></div>
<div class="b" style="left:817.0px;top:1532.3px;width:24.0px;height:4.7px;background:#ffd9d1;"></div>
<div class="b" style="left:841.0px;top:1514.8px;width:24.3px;height:22.2px;background:#ffaec3;"></div>
<div class="b" style="left:865.3px;top:1509.0px;width:24.5px;height:28.0px;background:#ffa1c0;"></div>
<div class="b" style="left:889.8px;top:1528.7px;width:25.2px;height:8.3px;background:#ffd0ce;"></div>
<div class="c" style="left:916px;top:1509px;width:106px;background:#fff;">Unknown</div>
<div class="c" style="left:3px;top:1538px;width:63px;background:#fff;">52</div>
<div class="c" style="left:67px;top:1538px;width:169px;background:#fff;"></div>
<div class="f" style="left:78px;top:1547px;"><svg width="14" height="10"><rect width="14" height="10" fill="#c4243f"/><circle cx="5.5" cy="5" r="2.6" fill="#fff"/><circle cx="6.3" cy="5" r="2.1" fill="#c4243f"/><circle cx="9" cy="5" r=".9" fill="#fff"/></svg></div>
<div class="t" style="left:102px;top:1538px;">土耳其</div>
<div class="c" style="left:237px;top:1538px;width:141px;background:#fff;">Shadowsocks</div>
<div class="c" style="left:379px;top:1538px;width:93px;background:#a5e9c4;">420ms</div>
<div class="c" style="left:473px;top:1538px;width:117px;background:#76c294;">1306ms</div>
<div class="c" style="left:591px;top:1538px;width:112px;background:#ffc7cd;">23.47MB</div>
<div class="c" style="left:704px;top:1538px;width:111px;background:#ffa1c0;">52.21MB</div>
<div class="c" style="left:817px;top:1538px;width:98px;background:#fff;"></div>
<div class="b" style="left:817.0px;top:1565.0px;width:24.0px;height:1.0px;background:#ffe2d6;"></div>
<div class="b" style="left:841.0px;top:1554.1px;width:24.3px;height:11.9px;background:#ffc8cd;"></div>
<div class="b" style="left:865.3px;top:1538.0px;width:24.5px;height:28.0px;background:#ffa1c0;"></div>
<div class="b" style="left:889.8px;top:1558.0px;width:25.2px;height:8.0px;background:#ffd1cf;"></div>
<div class="c" style="left:916px;top:1538px;width:106px;background:#fff;">Unknown</div>
<div class="c" style="left:3px;top:1567px;width:63px;background:#fff;">53</div>
<div class="c" style="left:67px;top:1567px;width:169px;background:#fff;"></div>
<div class="f" style="left:78px;top:1576px;"><svg width="14" height="10"><rect width="14" height="10" fill="#fff"/><rect x="3.5" width="10.5" height="3.4" fill="#3a7050"/><rect x="3.5" y="6.6" width="10.5" height="3.4" fill="#111"/><rect width="3.5" height="10" fill="#c4243f"/></svg></div>
<div class="t" style="left:102px;top:1567px;">迪拜</div>
<div class="c" style="left:237px;top:1567px;width:141px;background:#fff;">Shadowsocks</div>
<div class="c" style="left:379px;top:1567px;width:93px;background:#b2f5ce;">185ms</div>
<div class="c" style="left:473px;top:1567px;width:117px;background:#96dbb1;">701ms</div>
<div class="c" style="left:591px;top:1567px;width:112px;background:#ffc7cd;">23.07MB</div>
<div class="c" style="left:704px;top:1567px;width:111px;background:#ff9dc0;">56.39MB</div>
<div class="c" style="left:817px;top:1567px;width:98px;background:#fff;"></div>
<div class="b" style="left:817.0px;top:1594.2px;width:24.0px;height:0.8px;background:#ffe3d6;"></div>
<div class="b" style="left:841.0px;top:1585.1px;width:24.3px;height:9.9px;background:#ffcacd;"></div>
<div class="b" style="left:865.3px;top:1567.2px;width:24.5px;height:27.8px;background:#ff9dc0;"></div>
<div class="b" style="left:889.8px;top:1589.0px;width:25.2px;height:6.0px;background:#ffd5cf;"></div>
<div class="c" style="left:916px;top:1567px;width:106px;background:#fff;">FullCone</div>
<div class="c" style="left:3px;top:1596px;width:63px;background:#fff;">54</div>
<div class="c" style="left:67px;top:1596px;width:169px;background:#fff;"></div>
<div class="f" style="left:78px;top:1605px;"><svg width="14" height="10"><rect width="14" height="10" fill="#2a3a8a"/><path d="M0 0L14 10M14 0L0 10" stroke="#fff" stroke-width="2"/><path d="M7 0v10M0 5h14" stroke="#fff" stroke-width="3"/><path d="M7 0v10M0 5h14" stroke="#c4243f" stroke-width="1.6"/></svg></div>
<div class="t" style="left:102px;top:1596px;">英国</div>
<div class="c" style="left:237px;top:1596px;width:141px;background:#fff;">Shadowsocks</div>
<div class="c" style="left:379px;top:1596px;width:93px;background:#acf1c9;">292ms</div>
<div class="c" style="left:473px;top:1596px;width:117px;background:#88d4a6;">915ms</div>
<div class="c" style="left:591px;top:1596px;width:112px;background:#ffa1c0;">52.52MB</div>
<div class="c" style="left:704px;top:1596px;width:111px;background:#ff79b4;">91.31MB</div>
<div class="c" style="left:817px;top:1596px;width:98px;background:#fff;"></div>
<div class="b" style="left:817.0px;top:1621.9px;width:24.0px;height:2.1px;background:#ffdcd2;"></div>
<div class="b" style="left:841.0px;top:1609.9px;width:24.3px;height:14.1px;background:#ffa8c2;"></div>
<div class="b" style="left:865.3px;top:1596.0px;width:24.5px;height:28.0px;background:#ff79b4;"></div>
<div class="b" style="left:889.8px;top:1605.8px;width:25.2px;height:18.2px;background:#ff99c0;"></div>
<div class="c" style="left:916px;top:1596px;width:106px;background:#fff;">FullCone</div>
<div class="c" style="left:3px;top:1625px;width:63px;background:#fff;">55</div>
<div class="c" style="left:67px;top:1625px;width:169px;background:#fff;"></div>
<div class="f" style="left:78px;top:1634px;"><svg width="14" height="10"><rect width="14" height="10" fill="#fff"/><rect width="14" height="3.4" fill="#c4243f"/><rect y="6.6" width="14" height="3.4" fill="#1a2a8a"/></svg></div>
<div class="t" style="left:102px;top:1625px;">荷兰</div>
<div class="c" style="left:237px;top:1625px;width:141px;background:#fff;">Shadowsocks</div>
<div class="c" style="left:379px;top:1625px;width:93px;background:#aef2ca;">259ms</div>
<div class="c" style="left:473px;top:1625px;width:117px;background:#8ed6a9;">822ms</div>
<div class="c" style="left:591px;top:1625px;width:112px;background:#ff83b8;">77.46MB</div>
<div class="c" style="left:704px;top:1625px;width:111px;background:#ff52a4;">114.96MB</div>
<div class="c" style="left:817px;top:1625px;width:98px;background:#fff;"></div>
<div class="b" style="left:817.0px;top:1651.0px;width:24.0px;height:2.0px;background:#ffdad1;"></div>
<div class="b" style="left:841.0px;top:1634.2px;width:24.3px;height:18.8px;background:#ff83b9;"></div>
<div class="b" style="left:865.3px;top:1627.7px;width:24.5px;height:25.3px;background:#ff64ab;"></div>
<div class="b" style="left:889.8px;top:1625.2px;width:25.2px;height:27.8px;background:#ff54a5;"></div>
<div class="c" style="left:916px;top:1625px;width:106px;background:#fff;">Unknown</div>
<div class="c" style="left:3px;top:1654px;width:63px;background:#fff;">56</div>
<div class="c" style="left:67px;top:1654px;width:169px;background:#fff;"></div>
<div class="f" style="left:78px;top:1663px;"><svg width="14" height="10"><rect width="14" height="10" fill="#fff"/><rect width="14" height="3.4" fill="#f5a800"/><rect y="6.6" width="14" height="3.4" fill="#3a6a48"/><circle cx="7" cy="5" r="1.3" fill="#6a7abf"/></svg></div>
<div class="t" style="left:102px;top:1654px;">印度</div>
<div class="c" style="left:237px;top:1654px;width:141px;background:#fff;">Shadowsocks</div>
<div class="c" style="left:379px;top:1654px;width:93px;background:#b3f5cf;">161ms</div>
<div class="c" style="left:473px;top:1654px;width:117px;background:#99e3b9;">598ms</div>
<div class="c" style="left:591px;top:1654px;width:112px;background:#ff88bc;">71.75MB</div>
<div class="c" style="left:704px;top:1654px;width:111px;background:#ff7ab5;">89.74MB</div>
<div class="c" style="left:817px;top:1654px;width:98px;background:#fff;"></div>
<div class="b" style="left:817.0px;top:1671.1px;width:24.0px;height:10.9px;background:#ffb8c8;"></div>
<div class="b" style="left:841.0px;top:1658.3px;width:24.3px;height:23.7px;background:#ff84b9;"></div>
<div class="b" style="left:865.3px;top:1654.3px;width:24.5px;height:27.7px;background:#ff7bb5;"></div>
<div class="b" style="left:889.8px;top:1656.8px;width:25.2px;height:25.2px;background:#ff81b7;"></div>
<div class="c" style="left:916px;top:1654px;width:106px;background:#fff;">FullCone</div>
<div class="c" style="left:3px;top:1683px;width:63px;background:#fff;">57</div>
<div class="c" style="left:67px;top:1683px;width:169px;background:#fff;"></div>
<div class="f" style="left:78px;top:1692px;"><svg width="14" height="10"><rect width="14" height="10" fill="#fff"/><rect width="4.7" height="10" fill="#3a7050"/><rect x="9.3" width="4.7" height="10" fill="#f5a050"/></svg></div>
<div class="t" style="left:102px;top:1683px;">爱尔兰</div>
<div class="c" style="left:237px;top:1683px;width:141px;background:#fff;">Shadowsocks</div>
<div class="c" style="left:379px;top:1683px;width:93px;background:#aff3cb;">242ms</div>
<div class="c" style="left:473px;top:1683px;width:117px;background:#91d7ac;">774ms</div>
<div class="c" style="left:591px;top:1683px;width:112px;background:#ff85ba;">74.84MB</div>
<div class="c" style="left:704px;top:1683px;width:111px;background:#ff4ca3;">119.89MB</div>
<div class="c" style="left:817px;top:1683px;width:98px;background:#fff;"></div>
<div class="b" style="left:817.0px;top:1709.2px;width:24.0px;height:1.8px;background:#ffdbd2;"></div>
<div class="b" style="left:841.0px;top:1694.0px;width:24.3px;height:17.0px;background:#ff87bb;"></div>
<div class="b" style="left:865.3px;top:1683.0px;width:24.5px;height:28.0px;background:#ff4ca3;"></div>
<div class="b" style="left:889.8px;top:1688.9px;width:25.2px;height:22.1px;background:#ff75b3;"></div>
<div class="c" style="left:916px;top:1683px;width:106px;background:#fff;">FullCone</div>
<div class="c" style="left:3px;top:1712px;width:1019px;background:#ebebeb;"></div>
<div class="c" style="left:3px;top:1741px;width:1019px;background:#ebebeb;"></div>
<div class="c" style="left:3px;top:1770px;width:1019px;height:27px;border-bottom:none;background:#ebebeb;"></div>
<div style="position:absolute;left:13px;top:1719px;width:14px;height:14px;border-radius:2px;background:#5a9e78;"><svg width="14" height="14" style="position:absolute;left:0;top:0"><path d="M3.2 7.2L5.8 9.8L10.8 4" fill="none" stroke="#fff" stroke-width="1.8"/></svg></div>
<div class="t" style="left:36px;top:1712px;letter-spacing:-0.6px;">已核实 TLS 证书。TLS RTT 为单次数据交换延迟， HTTPS Ping 为单次请求体感延迟。</div>
<div class="t" style="left:10px;top:1741px;">主端=4.3.3 (697) 喵速=4.3.6-Meta (▯华南-广西移动 [1Gbps]), 线程=10 概要=57/57 排序=订阅原序 过滤器=</div>
<div class="t" style="left:10px;top:1770px;letter-spacing:-0.3px;">测试时间：2024-11-12 02:35:01 (CST)，本测试为试验性结果，仅供参考。</div>
<svg width="1025" height="1799" style="position:absolute;left:0;top:0;"><defs><mask id="wmm" maskUnits="userSpaceOnUse" x="0" y="0" width="1025" height="1799"><g font-family="Liberation Sans" font-size="44.4px">
<text x="268.5" y="82.2" transform="rotate(-15.2 268.5 82.2)" fill="#fff" stroke="#000" stroke-width="0.40">FFQ.LA Public Test Center</text>
<text x="268.5" y="237.6" transform="rotate(-15.2 268.5 237.6)" fill="#fff" stroke="#000" stroke-width="0.40">FFQ.LA Public Test Center</text>
<text x="268.5" y="392.9" transform="rotate(-15.2 268.5 392.9)" fill="#fff" stroke="#000" stroke-width="0.40">FFQ.LA Public Test Center</text>
<text x="268.5" y="548.2" transform="rotate(-15.2 268.5 548.2)" fill="#fff" stroke="#000" stroke-width="0.40">FFQ.LA Public Test Center</text>
<text x="268.5" y="703.6" transform="rotate(-15.2 268.5 703.6)" fill="#fff" stroke="#000" stroke-width="0.40">FFQ.LA Public Test Center</text>
<text x="268.5" y="859.0" transform="rotate(-15.2 268.5 859.0)" fill="#fff" stroke="#000" stroke-width="0.40">FFQ.LA Public Test Center</text>
<text x="268.5" y="1014.3" transform="rotate(-15.2 268.5 1014.3)" fill="#fff" stroke="#000" stroke-width="0.40">FFQ.LA Public Test Center</text>
<text x="268.5" y="1169.7" transform="rotate(-15.2 268.5 1169.7)" fill="#fff" stroke="#000" stroke-width="0.40">FFQ.LA Public Test Center</text>
<text x="268.5" y="1325.0" transform="rotate(-15.2 268.5 1325.0)" fill="#fff" stroke="#000" stroke-width="0.40">FFQ.LA Public Test Center</text>
<text x="268.5" y="1480.3" transform="rotate(-15.2 268.5 1480.3)" fill="#fff" stroke="#000" stroke-width="0.40">FFQ.LA Public Test Center</text>
<text x="268.5" y="1635.7" transform="rotate(-15.2 268.5 1635.7)" fill="#fff" stroke="#000" stroke-width="0.40">FFQ.LA Public Test Center</text>
<text x="268.5" y="1791.0" transform="rotate(-15.2 268.5 1791.0)" fill="#fff" stroke="#000" stroke-width="0.40">FFQ.LA Public Test Center</text>
</g></mask></defs><rect width="1025" height="1799" fill="rgb(96,100,96)" fill-opacity="0.38" mask="url(#wmm)"/></svg>
</body></html>
